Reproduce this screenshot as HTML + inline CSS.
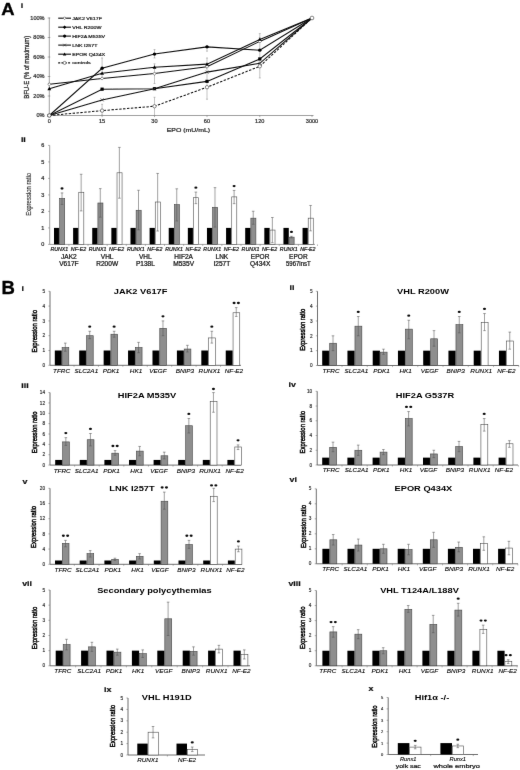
<!DOCTYPE html>
<html><head><meta charset="utf-8"><style>
html,body{margin:0;padding:0;background:#fff;}
body{width:520px;height:770px;overflow:hidden;}
svg{display:block;}
text{font-family:"Liberation Sans", sans-serif;}
</style></head><body>
<svg width="520" height="770" viewBox="0 0 520 770">
<defs><filter id="bl" x="0" y="0" width="520" height="770" filterUnits="userSpaceOnUse"><feConvolveMatrix order="3" kernelMatrix="0.00276 0.04704 0.00276 0.04704 0.80077 0.04704 0.00276 0.04704 0.00276" edgeMode="none"/></filter></defs>
<rect width="520" height="770" fill="#fff"/>
<g filter="url(#bl)">
<text x="1.20" y="14.60" font-size="17.4" font-weight="bold" textLength="13.32" lengthAdjust="spacingAndGlyphs" fill="#000" stroke="#000" stroke-width="0.35">A</text>
<text x="20.80" y="7.60" font-size="7.4" font-weight="bold" textLength="2.47" lengthAdjust="spacingAndGlyphs" fill="#111" stroke="#111" stroke-width="0.2">i</text>
<line x1="49.30" y1="17.50" x2="49.30" y2="115.50" stroke="#606060" stroke-width="0.6"/>
<line x1="49.30" y1="115.50" x2="313.50" y2="115.50" stroke="#606060" stroke-width="0.6"/>
<line x1="47.70" y1="115.50" x2="50.30" y2="115.50" stroke="#606060" stroke-width="0.5"/>
<text x="44.60" y="117.40" font-size="5.0" text-anchor="end" textLength="8.09" lengthAdjust="spacingAndGlyphs" fill="#333" stroke="#333" stroke-width="0.22">0%</text>
<line x1="47.70" y1="96.00" x2="50.30" y2="96.00" stroke="#606060" stroke-width="0.5"/>
<text x="44.60" y="97.90" font-size="5.0" text-anchor="end" textLength="11.21" lengthAdjust="spacingAndGlyphs" fill="#333" stroke="#333" stroke-width="0.22">20%</text>
<line x1="47.70" y1="76.50" x2="50.30" y2="76.50" stroke="#606060" stroke-width="0.5"/>
<text x="44.60" y="78.40" font-size="5.0" text-anchor="end" textLength="11.21" lengthAdjust="spacingAndGlyphs" fill="#333" stroke="#333" stroke-width="0.22">40%</text>
<line x1="47.70" y1="57.00" x2="50.30" y2="57.00" stroke="#606060" stroke-width="0.5"/>
<text x="44.60" y="58.90" font-size="5.0" text-anchor="end" textLength="11.21" lengthAdjust="spacingAndGlyphs" fill="#333" stroke="#333" stroke-width="0.22">60%</text>
<line x1="47.70" y1="37.50" x2="50.30" y2="37.50" stroke="#606060" stroke-width="0.5"/>
<text x="44.60" y="39.40" font-size="5.0" text-anchor="end" textLength="11.21" lengthAdjust="spacingAndGlyphs" fill="#333" stroke="#333" stroke-width="0.22">80%</text>
<line x1="47.70" y1="18.00" x2="50.30" y2="18.00" stroke="#606060" stroke-width="0.5"/>
<text x="44.60" y="19.90" font-size="5.0" text-anchor="end" textLength="14.32" lengthAdjust="spacingAndGlyphs" fill="#333" stroke="#333" stroke-width="0.22">100%</text>
<line x1="49.30" y1="115.50" x2="49.30" y2="117.10" stroke="#606060" stroke-width="0.5"/>
<text x="49.30" y="123.40" font-size="5.0" text-anchor="middle" textLength="3.11" lengthAdjust="spacingAndGlyphs" fill="#333" stroke="#333" stroke-width="0.22">0</text>
<line x1="102.10" y1="115.50" x2="102.10" y2="117.10" stroke="#606060" stroke-width="0.5"/>
<text x="102.10" y="123.40" font-size="5.0" text-anchor="middle" textLength="6.23" lengthAdjust="spacingAndGlyphs" fill="#333" stroke="#333" stroke-width="0.22">15</text>
<line x1="154.50" y1="115.50" x2="154.50" y2="117.10" stroke="#606060" stroke-width="0.5"/>
<text x="154.50" y="123.40" font-size="5.0" text-anchor="middle" textLength="6.23" lengthAdjust="spacingAndGlyphs" fill="#333" stroke="#333" stroke-width="0.22">30</text>
<line x1="207.00" y1="115.50" x2="207.00" y2="117.10" stroke="#606060" stroke-width="0.5"/>
<text x="207.00" y="123.40" font-size="5.0" text-anchor="middle" textLength="6.23" lengthAdjust="spacingAndGlyphs" fill="#333" stroke="#333" stroke-width="0.22">60</text>
<line x1="259.80" y1="115.50" x2="259.80" y2="117.10" stroke="#606060" stroke-width="0.5"/>
<text x="259.80" y="123.40" font-size="5.0" text-anchor="middle" textLength="9.34" lengthAdjust="spacingAndGlyphs" fill="#333" stroke="#333" stroke-width="0.22">120</text>
<line x1="312.00" y1="115.50" x2="312.00" y2="117.10" stroke="#606060" stroke-width="0.5"/>
<text x="312.00" y="123.40" font-size="5.0" text-anchor="middle" textLength="12.46" lengthAdjust="spacingAndGlyphs" fill="#333" stroke="#333" stroke-width="0.22">3000</text>
<text x="188.40" y="132.00" font-size="6.0" text-anchor="middle" textLength="43.50" lengthAdjust="spacingAndGlyphs" fill="#222" stroke="#222" stroke-width="0.22">EPO (mU/mL)</text>
<text x="0" y="0" font-size="6.0" text-anchor="middle" textLength="63.00" lengthAdjust="spacingAndGlyphs" fill="#222" stroke="#222" stroke-width="0.22" transform="translate(29.40 67.30) scale(1.2 1) rotate(-90)">BFU-E (% of maximum)</text>
<line x1="102.10" y1="57.98" x2="102.10" y2="77.96" stroke="#888" stroke-width="0.5"/>
<line x1="101.10" y1="57.98" x2="103.10" y2="57.98" stroke="#888" stroke-width="0.5"/>
<line x1="101.10" y1="77.96" x2="103.10" y2="77.96" stroke="#888" stroke-width="0.5"/>
<line x1="102.10" y1="104.29" x2="102.10" y2="115.01" stroke="#888" stroke-width="0.5"/>
<line x1="101.10" y1="104.29" x2="103.10" y2="104.29" stroke="#888" stroke-width="0.5"/>
<line x1="101.10" y1="115.01" x2="103.10" y2="115.01" stroke="#888" stroke-width="0.5"/>
<line x1="154.50" y1="49.59" x2="154.50" y2="57.98" stroke="#888" stroke-width="0.5"/>
<line x1="153.50" y1="49.59" x2="155.50" y2="49.59" stroke="#888" stroke-width="0.5"/>
<line x1="153.50" y1="57.98" x2="155.50" y2="57.98" stroke="#888" stroke-width="0.5"/>
<line x1="154.50" y1="63.83" x2="154.50" y2="83.52" stroke="#888" stroke-width="0.5"/>
<line x1="153.50" y1="63.83" x2="155.50" y2="63.83" stroke="#888" stroke-width="0.5"/>
<line x1="153.50" y1="83.52" x2="155.50" y2="83.52" stroke="#888" stroke-width="0.5"/>
<line x1="154.50" y1="97.27" x2="154.50" y2="115.50" stroke="#888" stroke-width="0.5"/>
<line x1="153.50" y1="97.27" x2="155.50" y2="97.27" stroke="#888" stroke-width="0.5"/>
<line x1="153.50" y1="115.50" x2="155.50" y2="115.50" stroke="#888" stroke-width="0.5"/>
<line x1="207.00" y1="57.98" x2="207.00" y2="99.22" stroke="#888" stroke-width="0.5"/>
<line x1="206.00" y1="57.98" x2="208.00" y2="57.98" stroke="#888" stroke-width="0.5"/>
<line x1="206.00" y1="99.22" x2="208.00" y2="99.22" stroke="#888" stroke-width="0.5"/>
<line x1="207.00" y1="45.79" x2="207.00" y2="51.15" stroke="#888" stroke-width="0.5"/>
<line x1="206.00" y1="45.79" x2="208.00" y2="45.79" stroke="#888" stroke-width="0.5"/>
<line x1="206.00" y1="51.15" x2="208.00" y2="51.15" stroke="#888" stroke-width="0.5"/>
<line x1="259.80" y1="38.48" x2="259.80" y2="77.96" stroke="#888" stroke-width="0.5"/>
<line x1="258.80" y1="38.48" x2="260.80" y2="38.48" stroke="#888" stroke-width="0.5"/>
<line x1="258.80" y1="77.96" x2="260.80" y2="77.96" stroke="#888" stroke-width="0.5"/>
<line x1="259.80" y1="33.60" x2="259.80" y2="37.50" stroke="#888" stroke-width="0.5"/>
<line x1="258.80" y1="33.60" x2="260.80" y2="33.60" stroke="#888" stroke-width="0.5"/>
<line x1="258.80" y1="37.50" x2="260.80" y2="37.50" stroke="#888" stroke-width="0.5"/>
<polyline points="49.30,84.30 102.10,78.45 154.50,73.58 207.00,66.75 259.80,41.40 312.00,18.00" fill="none" stroke="#111" stroke-width="1.05"/>
<polyline points="49.30,115.50 102.10,89.17 154.50,88.69 207.00,81.38 259.80,58.95 312.00,18.00" fill="none" stroke="#111" stroke-width="1.05"/>
<polyline points="49.30,115.50 102.10,68.31 154.50,54.08 207.00,46.86 259.80,50.17 312.00,18.00" fill="none" stroke="#111" stroke-width="1.05"/>
<polyline points="49.30,115.50 102.10,99.90 154.50,88.69 207.00,72.11 259.80,63.34 312.00,18.00" fill="none" stroke="#111" stroke-width="1.05"/>
<polyline points="49.30,88.69 102.10,73.28 154.50,67.24 207.00,64.12 259.80,39.45 312.00,18.00" fill="none" stroke="#111" stroke-width="1.05"/>
<polyline points="49.30,115.50 102.10,110.62 154.50,106.24 207.00,87.22 259.80,66.26 312.00,18.00" fill="none" stroke="#111" stroke-width="1.05" stroke-dasharray="2.4 1.5"/>
<path d="M47.70 84.30L49.30 82.70L50.90 84.30L49.30 85.90Z" fill="#fff" stroke="#333" stroke-width="0.55"/>
<path d="M100.50 78.45L102.10 76.85L103.70 78.45L102.10 80.05Z" fill="#fff" stroke="#333" stroke-width="0.55"/>
<path d="M152.90 73.58L154.50 71.98L156.10 73.58L154.50 75.17Z" fill="#fff" stroke="#333" stroke-width="0.55"/>
<path d="M205.40 66.75L207.00 65.15L208.60 66.75L207.00 68.35Z" fill="#fff" stroke="#333" stroke-width="0.55"/>
<path d="M258.20 41.40L259.80 39.80L261.40 41.40L259.80 43.00Z" fill="#fff" stroke="#333" stroke-width="0.55"/>
<rect x="47.70" y="113.90" width="3.20" height="3.20" fill="#000"/>
<rect x="100.50" y="87.58" width="3.20" height="3.20" fill="#000"/>
<rect x="152.90" y="87.09" width="3.20" height="3.20" fill="#000"/>
<rect x="205.40" y="79.78" width="3.20" height="3.20" fill="#000"/>
<rect x="258.20" y="57.35" width="3.20" height="3.20" fill="#000"/>
<circle cx="49.30" cy="115.50" r="1.70" fill="#000"/>
<circle cx="102.10" cy="68.31" r="1.70" fill="#000"/>
<circle cx="154.50" cy="54.08" r="1.70" fill="#000"/>
<circle cx="207.00" cy="46.86" r="1.70" fill="#000"/>
<circle cx="259.80" cy="50.17" r="1.70" fill="#000"/>
<path d="M47.80 114.00L50.80 117.00M47.80 117.00L50.80 114.00" stroke="#333" stroke-width="0.7"/>
<path d="M100.60 98.40L103.60 101.40M100.60 101.40L103.60 98.40" stroke="#333" stroke-width="0.7"/>
<path d="M153.00 87.19L156.00 90.19M153.00 90.19L156.00 87.19" stroke="#333" stroke-width="0.7"/>
<path d="M205.50 70.61L208.50 73.61M205.50 73.61L208.50 70.61" stroke="#333" stroke-width="0.7"/>
<path d="M258.30 61.84L261.30 64.84M258.30 64.84L261.30 61.84" stroke="#333" stroke-width="0.7"/>
<path d="M49.30 86.79L51.20 90.21L47.40 90.21Z" fill="#000"/>
<path d="M102.10 71.38L104.00 74.80L100.20 74.80Z" fill="#000"/>
<path d="M154.50 65.34L156.40 68.76L152.60 68.76Z" fill="#000"/>
<path d="M207.00 62.22L208.90 65.64L205.10 65.64Z" fill="#000"/>
<path d="M259.80 37.55L261.70 40.97L257.90 40.97Z" fill="#000"/>
<circle cx="49.30" cy="115.50" r="1.70" fill="#fff" stroke="#333" stroke-width="0.6"/>
<circle cx="102.10" cy="110.62" r="1.70" fill="#fff" stroke="#333" stroke-width="0.6"/>
<circle cx="154.50" cy="106.24" r="1.70" fill="#fff" stroke="#333" stroke-width="0.6"/>
<circle cx="207.00" cy="87.22" r="1.70" fill="#fff" stroke="#333" stroke-width="0.6"/>
<circle cx="259.80" cy="66.26" r="1.70" fill="#fff" stroke="#333" stroke-width="0.6"/>
<circle cx="312.00" cy="18.00" r="1.87" fill="#fff" stroke="#333" stroke-width="0.6"/>
<line x1="58.2" y1="18.2" x2="71.0" y2="18.2" stroke="#111" stroke-width="1.1"/>
<path d="M63.16 18.20L64.60 16.76L66.04 18.20L64.60 19.64Z" fill="#fff" stroke="#333" stroke-width="0.55"/>
<text x="72.20" y="19.75" font-size="4.2" textLength="29.71" lengthAdjust="spacingAndGlyphs" fill="#222" stroke="#222" stroke-width="0.2">JAK2 V617F</text>
<line x1="58.2" y1="27.2" x2="71.0" y2="27.2" stroke="#111" stroke-width="1.1"/>
<path d="M62.80 27.20L64.60 25.40L66.40 27.20L64.60 29.00Z" fill="#000"/>
<text x="72.20" y="28.75" font-size="4.2" textLength="29.22" lengthAdjust="spacingAndGlyphs" fill="#222" stroke="#222" stroke-width="0.2">VHL R200W</text>
<line x1="58.2" y1="36.1" x2="71.0" y2="36.1" stroke="#111" stroke-width="1.1"/>
<circle cx="64.60" cy="36.10" r="1.53" fill="#000"/>
<text x="72.20" y="37.65" font-size="4.2" textLength="32.94" lengthAdjust="spacingAndGlyphs" fill="#222" stroke="#222" stroke-width="0.2">HIF2A M535V</text>
<line x1="58.2" y1="45.1" x2="71.0" y2="45.1" stroke="#111" stroke-width="1.1"/>
<path d="M63.25 43.75L65.95 46.45M63.25 46.45L65.95 43.75" stroke="#333" stroke-width="0.7"/>
<text x="72.20" y="46.65" font-size="4.2" textLength="25.30" lengthAdjust="spacingAndGlyphs" fill="#222" stroke="#222" stroke-width="0.2">LNK I257T</text>
<line x1="58.2" y1="54.2" x2="71.0" y2="54.2" stroke="#111" stroke-width="1.1"/>
<path d="M64.60 52.49L66.31 55.57L62.89 55.57Z" fill="#000"/>
<text x="72.20" y="55.75" font-size="4.2" textLength="32.94" lengthAdjust="spacingAndGlyphs" fill="#222" stroke="#222" stroke-width="0.2">EPOR Q434X</text>
<line x1="58.2" y1="62.9" x2="71.0" y2="62.9" stroke="#111" stroke-width="1.1" stroke-dasharray="2 1.3"/>
<circle cx="64.60" cy="62.90" r="1.53" fill="#fff" stroke="#333" stroke-width="0.6"/>
<text x="72.20" y="64.45" font-size="4.2" textLength="18.53" lengthAdjust="spacingAndGlyphs" fill="#222" stroke="#222" stroke-width="0.2">controls</text>
<text x="20.90" y="142.10" font-size="7.4" font-weight="bold" textLength="4.93" lengthAdjust="spacingAndGlyphs" fill="#111" stroke="#111" stroke-width="0.2">ii</text>
<line x1="49.70" y1="145.40" x2="49.70" y2="244.40" stroke="#606060" stroke-width="0.6"/>
<line x1="49.70" y1="244.40" x2="315.00" y2="244.40" stroke="#606060" stroke-width="0.6"/>
<line x1="48.10" y1="244.40" x2="49.70" y2="244.40" stroke="#606060" stroke-width="0.5"/>
<text x="44.40" y="246.10" font-size="4.8" text-anchor="end" textLength="3.07" lengthAdjust="spacingAndGlyphs" fill="#333" stroke="#333" stroke-width="0.22">0</text>
<line x1="48.10" y1="227.90" x2="49.70" y2="227.90" stroke="#606060" stroke-width="0.5"/>
<text x="44.40" y="229.60" font-size="4.8" text-anchor="end" textLength="3.07" lengthAdjust="spacingAndGlyphs" fill="#333" stroke="#333" stroke-width="0.22">1</text>
<line x1="48.10" y1="211.40" x2="49.70" y2="211.40" stroke="#606060" stroke-width="0.5"/>
<text x="44.40" y="213.10" font-size="4.8" text-anchor="end" textLength="3.07" lengthAdjust="spacingAndGlyphs" fill="#333" stroke="#333" stroke-width="0.22">2</text>
<line x1="48.10" y1="194.90" x2="49.70" y2="194.90" stroke="#606060" stroke-width="0.5"/>
<text x="44.40" y="196.60" font-size="4.8" text-anchor="end" textLength="3.07" lengthAdjust="spacingAndGlyphs" fill="#333" stroke="#333" stroke-width="0.22">3</text>
<line x1="48.10" y1="178.40" x2="49.70" y2="178.40" stroke="#606060" stroke-width="0.5"/>
<text x="44.40" y="180.10" font-size="4.8" text-anchor="end" textLength="3.07" lengthAdjust="spacingAndGlyphs" fill="#333" stroke="#333" stroke-width="0.22">4</text>
<line x1="48.10" y1="161.90" x2="49.70" y2="161.90" stroke="#606060" stroke-width="0.5"/>
<text x="44.40" y="163.60" font-size="4.8" text-anchor="end" textLength="3.07" lengthAdjust="spacingAndGlyphs" fill="#333" stroke="#333" stroke-width="0.22">5</text>
<line x1="48.10" y1="145.40" x2="49.70" y2="145.40" stroke="#606060" stroke-width="0.5"/>
<text x="44.40" y="147.10" font-size="4.8" text-anchor="end" textLength="3.07" lengthAdjust="spacingAndGlyphs" fill="#333" stroke="#333" stroke-width="0.22">6</text>
<text x="0" y="0" font-size="5.9" text-anchor="middle" textLength="42.80" lengthAdjust="spacingAndGlyphs" fill="#2a2a2a" stroke="#2a2a2a" stroke-width="0.1" transform="translate(31.40 194.30) scale(1.2 1) rotate(-90)">Expression ratio</text>
<rect x="54.00" y="227.90" width="5.35" height="16.50" fill="#000"/>
<rect x="59.65" y="198.53" width="5.05" height="45.87" fill="#8e8e8e" stroke="#444" stroke-width="0.6"/>
<line x1="62.02" y1="192.92" x2="62.02" y2="204.47" stroke="#555" stroke-width="0.55"/>
<line x1="60.73" y1="192.92" x2="63.32" y2="192.92" stroke="#555" stroke-width="0.55"/>
<line x1="60.73" y1="204.47" x2="63.32" y2="204.47" stroke="#555" stroke-width="0.55"/>
<ellipse cx="62.02" cy="188.52" rx="1.55" ry="1.15" fill="#111"/>
<text x="59.35" y="251.00" font-size="4.7" text-anchor="middle" font-style="italic" textLength="17.84" lengthAdjust="spacingAndGlyphs" fill="#222" stroke="#222" stroke-width="0.22">RUNX1</text>
<rect x="73.12" y="227.90" width="5.35" height="16.50" fill="#000"/>
<rect x="78.77" y="192.26" width="5.05" height="52.14" fill="#fff" stroke="#444" stroke-width="0.6"/>
<line x1="81.15" y1="174.28" x2="81.15" y2="210.91" stroke="#555" stroke-width="0.55"/>
<line x1="79.85" y1="174.28" x2="82.45" y2="174.28" stroke="#555" stroke-width="0.55"/>
<line x1="79.85" y1="210.91" x2="82.45" y2="210.91" stroke="#555" stroke-width="0.55"/>
<text x="78.47" y="251.00" font-size="4.7" text-anchor="middle" font-style="italic" textLength="15.21" lengthAdjust="spacingAndGlyphs" fill="#222" stroke="#222" stroke-width="0.22">NF-E2</text>
<rect x="92.24" y="227.90" width="5.35" height="16.50" fill="#000"/>
<rect x="97.89" y="202.99" width="5.05" height="41.41" fill="#8e8e8e" stroke="#444" stroke-width="0.6"/>
<line x1="100.27" y1="188.63" x2="100.27" y2="217.18" stroke="#555" stroke-width="0.55"/>
<line x1="98.97" y1="188.63" x2="101.57" y2="188.63" stroke="#555" stroke-width="0.55"/>
<line x1="98.97" y1="217.18" x2="101.57" y2="217.18" stroke="#555" stroke-width="0.55"/>
<text x="97.59" y="251.00" font-size="4.7" text-anchor="middle" font-style="italic" textLength="17.84" lengthAdjust="spacingAndGlyphs" fill="#222" stroke="#222" stroke-width="0.22">RUNX1</text>
<rect x="111.36" y="227.90" width="5.35" height="16.50" fill="#000"/>
<rect x="117.01" y="172.79" width="5.05" height="71.61" fill="#fff" stroke="#444" stroke-width="0.6"/>
<line x1="119.38" y1="147.38" x2="119.38" y2="198.20" stroke="#555" stroke-width="0.55"/>
<line x1="118.08" y1="147.38" x2="120.68" y2="147.38" stroke="#555" stroke-width="0.55"/>
<line x1="118.08" y1="198.20" x2="120.68" y2="198.20" stroke="#555" stroke-width="0.55"/>
<text x="116.71" y="251.00" font-size="4.7" text-anchor="middle" font-style="italic" textLength="15.21" lengthAdjust="spacingAndGlyphs" fill="#222" stroke="#222" stroke-width="0.22">NF-E2</text>
<rect x="130.48" y="227.90" width="5.35" height="16.50" fill="#000"/>
<rect x="136.13" y="210.25" width="5.05" height="34.15" fill="#8e8e8e" stroke="#444" stroke-width="0.6"/>
<line x1="138.51" y1="190.28" x2="138.51" y2="229.88" stroke="#555" stroke-width="0.55"/>
<line x1="137.21" y1="190.28" x2="139.81" y2="190.28" stroke="#555" stroke-width="0.55"/>
<line x1="137.21" y1="229.88" x2="139.81" y2="229.88" stroke="#555" stroke-width="0.55"/>
<text x="135.83" y="251.00" font-size="4.7" text-anchor="middle" font-style="italic" textLength="17.84" lengthAdjust="spacingAndGlyphs" fill="#222" stroke="#222" stroke-width="0.22">RUNX1</text>
<rect x="149.60" y="227.90" width="5.35" height="16.50" fill="#000"/>
<rect x="155.25" y="202.00" width="5.05" height="42.40" fill="#fff" stroke="#444" stroke-width="0.6"/>
<line x1="157.63" y1="173.45" x2="157.63" y2="231.03" stroke="#555" stroke-width="0.55"/>
<line x1="156.33" y1="173.45" x2="158.93" y2="173.45" stroke="#555" stroke-width="0.55"/>
<line x1="156.33" y1="231.03" x2="158.93" y2="231.03" stroke="#555" stroke-width="0.55"/>
<text x="154.95" y="251.00" font-size="4.7" text-anchor="middle" font-style="italic" textLength="15.21" lengthAdjust="spacingAndGlyphs" fill="#222" stroke="#222" stroke-width="0.22">NF-E2</text>
<rect x="168.72" y="227.90" width="5.35" height="16.50" fill="#000"/>
<rect x="174.37" y="204.63" width="5.05" height="39.77" fill="#8e8e8e" stroke="#444" stroke-width="0.6"/>
<line x1="176.75" y1="188.80" x2="176.75" y2="220.97" stroke="#555" stroke-width="0.55"/>
<line x1="175.44" y1="188.80" x2="178.05" y2="188.80" stroke="#555" stroke-width="0.55"/>
<line x1="175.44" y1="220.97" x2="178.05" y2="220.97" stroke="#555" stroke-width="0.55"/>
<text x="174.07" y="251.00" font-size="4.7" text-anchor="middle" font-style="italic" textLength="17.84" lengthAdjust="spacingAndGlyphs" fill="#222" stroke="#222" stroke-width="0.22">RUNX1</text>
<rect x="187.84" y="227.90" width="5.35" height="16.50" fill="#000"/>
<rect x="193.49" y="197.71" width="5.05" height="46.70" fill="#fff" stroke="#444" stroke-width="0.6"/>
<line x1="195.87" y1="192.09" x2="195.87" y2="203.65" stroke="#555" stroke-width="0.55"/>
<line x1="194.56" y1="192.09" x2="197.17" y2="192.09" stroke="#555" stroke-width="0.55"/>
<line x1="194.56" y1="203.65" x2="197.17" y2="203.65" stroke="#555" stroke-width="0.55"/>
<ellipse cx="195.87" cy="187.69" rx="1.55" ry="1.15" fill="#111"/>
<text x="193.19" y="251.00" font-size="4.7" text-anchor="middle" font-style="italic" textLength="15.21" lengthAdjust="spacingAndGlyphs" fill="#222" stroke="#222" stroke-width="0.22">NF-E2</text>
<rect x="206.96" y="227.90" width="5.35" height="16.50" fill="#000"/>
<rect x="212.61" y="207.28" width="5.05" height="37.12" fill="#8e8e8e" stroke="#444" stroke-width="0.6"/>
<line x1="214.99" y1="187.64" x2="214.99" y2="227.08" stroke="#555" stroke-width="0.55"/>
<line x1="213.69" y1="187.64" x2="216.29" y2="187.64" stroke="#555" stroke-width="0.55"/>
<line x1="213.69" y1="227.08" x2="216.29" y2="227.08" stroke="#555" stroke-width="0.55"/>
<text x="212.31" y="251.00" font-size="4.7" text-anchor="middle" font-style="italic" textLength="17.84" lengthAdjust="spacingAndGlyphs" fill="#222" stroke="#222" stroke-width="0.22">RUNX1</text>
<rect x="226.08" y="227.90" width="5.35" height="16.50" fill="#000"/>
<rect x="231.73" y="196.88" width="5.05" height="47.52" fill="#fff" stroke="#444" stroke-width="0.6"/>
<line x1="234.11" y1="190.44" x2="234.11" y2="203.65" stroke="#555" stroke-width="0.55"/>
<line x1="232.81" y1="190.44" x2="235.41" y2="190.44" stroke="#555" stroke-width="0.55"/>
<line x1="232.81" y1="203.65" x2="235.41" y2="203.65" stroke="#555" stroke-width="0.55"/>
<ellipse cx="234.11" cy="186.04" rx="1.55" ry="1.15" fill="#111"/>
<text x="231.43" y="251.00" font-size="4.7" text-anchor="middle" font-style="italic" textLength="15.21" lengthAdjust="spacingAndGlyphs" fill="#222" stroke="#222" stroke-width="0.22">NF-E2</text>
<rect x="245.20" y="227.90" width="5.35" height="16.50" fill="#000"/>
<rect x="250.85" y="218.16" width="5.05" height="26.24" fill="#8e8e8e" stroke="#444" stroke-width="0.6"/>
<line x1="253.23" y1="211.24" x2="253.23" y2="224.27" stroke="#555" stroke-width="0.55"/>
<line x1="251.93" y1="211.24" x2="254.53" y2="211.24" stroke="#555" stroke-width="0.55"/>
<line x1="251.93" y1="224.27" x2="254.53" y2="224.27" stroke="#555" stroke-width="0.55"/>
<text x="250.55" y="251.00" font-size="4.7" text-anchor="middle" font-style="italic" textLength="17.84" lengthAdjust="spacingAndGlyphs" fill="#222" stroke="#222" stroke-width="0.22">RUNX1</text>
<rect x="264.32" y="227.90" width="5.35" height="16.50" fill="#000"/>
<rect x="269.97" y="230.05" width="5.05" height="14.36" fill="#fff" stroke="#444" stroke-width="0.6"/>
<line x1="272.35" y1="217.50" x2="272.35" y2="242.75" stroke="#555" stroke-width="0.55"/>
<line x1="271.05" y1="217.50" x2="273.65" y2="217.50" stroke="#555" stroke-width="0.55"/>
<line x1="271.05" y1="242.75" x2="273.65" y2="242.75" stroke="#555" stroke-width="0.55"/>
<text x="269.67" y="251.00" font-size="4.7" text-anchor="middle" font-style="italic" textLength="15.21" lengthAdjust="spacingAndGlyphs" fill="#222" stroke="#222" stroke-width="0.22">NF-E2</text>
<rect x="283.44" y="227.90" width="5.35" height="16.50" fill="#000"/>
<rect x="289.09" y="237.14" width="5.05" height="7.26" fill="#8e8e8e" stroke="#444" stroke-width="0.6"/>
<line x1="291.46" y1="236.31" x2="291.46" y2="237.97" stroke="#555" stroke-width="0.55"/>
<line x1="290.16" y1="236.31" x2="292.76" y2="236.31" stroke="#555" stroke-width="0.55"/>
<line x1="290.16" y1="237.97" x2="292.76" y2="237.97" stroke="#555" stroke-width="0.55"/>
<ellipse cx="291.46" cy="231.91" rx="1.55" ry="1.15" fill="#111"/>
<text x="288.79" y="251.00" font-size="4.7" text-anchor="middle" font-style="italic" textLength="17.84" lengthAdjust="spacingAndGlyphs" fill="#222" stroke="#222" stroke-width="0.22">RUNX1</text>
<rect x="302.56" y="227.90" width="5.35" height="16.50" fill="#000"/>
<rect x="308.21" y="218.16" width="5.05" height="26.24" fill="#fff" stroke="#444" stroke-width="0.6"/>
<line x1="310.58" y1="205.46" x2="310.58" y2="230.87" stroke="#555" stroke-width="0.55"/>
<line x1="309.28" y1="205.46" x2="311.88" y2="205.46" stroke="#555" stroke-width="0.55"/>
<line x1="309.28" y1="230.87" x2="311.88" y2="230.87" stroke="#555" stroke-width="0.55"/>
<text x="307.91" y="251.00" font-size="4.7" text-anchor="middle" font-style="italic" textLength="15.21" lengthAdjust="spacingAndGlyphs" fill="#222" stroke="#222" stroke-width="0.22">NF-E2</text>
<line x1="68.91" y1="244.40" x2="68.91" y2="246.00" stroke="#606060" stroke-width="0.45"/>
<line x1="88.03" y1="244.40" x2="88.03" y2="246.00" stroke="#606060" stroke-width="0.45"/>
<line x1="107.15" y1="244.40" x2="107.15" y2="246.00" stroke="#606060" stroke-width="0.45"/>
<line x1="126.27" y1="244.40" x2="126.27" y2="246.00" stroke="#606060" stroke-width="0.45"/>
<line x1="145.39" y1="244.40" x2="145.39" y2="246.00" stroke="#606060" stroke-width="0.45"/>
<line x1="164.51" y1="244.40" x2="164.51" y2="246.00" stroke="#606060" stroke-width="0.45"/>
<line x1="183.63" y1="244.40" x2="183.63" y2="246.00" stroke="#606060" stroke-width="0.45"/>
<line x1="202.75" y1="244.40" x2="202.75" y2="246.00" stroke="#606060" stroke-width="0.45"/>
<line x1="221.87" y1="244.40" x2="221.87" y2="246.00" stroke="#606060" stroke-width="0.45"/>
<line x1="240.99" y1="244.40" x2="240.99" y2="246.00" stroke="#606060" stroke-width="0.45"/>
<line x1="260.11" y1="244.40" x2="260.11" y2="246.00" stroke="#606060" stroke-width="0.45"/>
<line x1="279.23" y1="244.40" x2="279.23" y2="246.00" stroke="#606060" stroke-width="0.45"/>
<line x1="298.35" y1="244.40" x2="298.35" y2="246.00" stroke="#606060" stroke-width="0.45"/>
<line x1="317.47" y1="244.40" x2="317.47" y2="246.00" stroke="#606060" stroke-width="0.45"/>
<text x="68.91" y="258.50" font-size="6.3" text-anchor="middle" textLength="15.66" lengthAdjust="spacingAndGlyphs" fill="#111" stroke="#111" stroke-width="0.22">JAK2</text>
<text x="68.91" y="266.00" font-size="6.3" text-anchor="middle" textLength="19.30" lengthAdjust="spacingAndGlyphs" fill="#111" stroke="#111" stroke-width="0.22">V617F</text>
<text x="107.15" y="258.50" font-size="6.3" text-anchor="middle" textLength="12.75" lengthAdjust="spacingAndGlyphs" fill="#111" stroke="#111" stroke-width="0.22">VHL</text>
<text x="107.15" y="266.00" font-size="6.3" text-anchor="middle" textLength="21.85" lengthAdjust="spacingAndGlyphs" fill="#111" stroke="#111" stroke-width="0.22">R200W</text>
<text x="145.39" y="258.50" font-size="6.3" text-anchor="middle" textLength="12.75" lengthAdjust="spacingAndGlyphs" fill="#111" stroke="#111" stroke-width="0.22">VHL</text>
<text x="145.39" y="266.00" font-size="6.3" text-anchor="middle" textLength="18.95" lengthAdjust="spacingAndGlyphs" fill="#111" stroke="#111" stroke-width="0.22">P138L</text>
<text x="183.63" y="258.50" font-size="6.3" text-anchor="middle" textLength="18.57" lengthAdjust="spacingAndGlyphs" fill="#111" stroke="#111" stroke-width="0.22">HIF2A</text>
<text x="183.63" y="266.00" font-size="6.3" text-anchor="middle" textLength="20.76" lengthAdjust="spacingAndGlyphs" fill="#111" stroke="#111" stroke-width="0.22">M535V</text>
<text x="221.87" y="258.50" font-size="6.3" text-anchor="middle" textLength="12.75" lengthAdjust="spacingAndGlyphs" fill="#111" stroke="#111" stroke-width="0.22">LNK</text>
<text x="221.87" y="266.00" font-size="6.3" text-anchor="middle" textLength="16.75" lengthAdjust="spacingAndGlyphs" fill="#111" stroke="#111" stroke-width="0.22">I257T</text>
<text x="260.11" y="258.50" font-size="6.3" text-anchor="middle" textLength="18.57" lengthAdjust="spacingAndGlyphs" fill="#111" stroke="#111" stroke-width="0.22">EPOR</text>
<text x="260.11" y="266.00" font-size="6.3" text-anchor="middle" textLength="20.40" lengthAdjust="spacingAndGlyphs" fill="#111" stroke="#111" stroke-width="0.22">Q434X</text>
<text x="298.35" y="258.50" font-size="6.3" text-anchor="middle" textLength="18.57" lengthAdjust="spacingAndGlyphs" fill="#111" stroke="#111" stroke-width="0.22">EPOR</text>
<text x="298.35" y="266.00" font-size="6.3" text-anchor="middle" textLength="24.62" lengthAdjust="spacingAndGlyphs" fill="#111" stroke="#111" stroke-width="0.22">5967insT</text>
<text x="1.60" y="293.50" font-size="17.8" font-weight="bold" textLength="13.37" lengthAdjust="spacingAndGlyphs" fill="#000" stroke="#000" stroke-width="0.35">B</text>
<text x="21.40" y="290.80" font-size="7.4" font-weight="bold" textLength="2.47" lengthAdjust="spacingAndGlyphs" fill="#111" stroke="#111" stroke-width="0.2">i</text>
<line x1="50.00" y1="291.30" x2="50.00" y2="365.30" stroke="#606060" stroke-width="0.9"/>
<line x1="50.00" y1="365.30" x2="241.00" y2="365.30" stroke="#606060" stroke-width="0.9"/>
<line x1="48.40" y1="365.30" x2="50.00" y2="365.30" stroke="#606060" stroke-width="0.5"/>
<text x="45.00" y="366.99" font-size="4.7" text-anchor="end" fill="#2a2a2a" stroke="#2a2a2a" stroke-width="0.15">0</text>
<line x1="48.40" y1="350.50" x2="50.00" y2="350.50" stroke="#606060" stroke-width="0.5"/>
<text x="45.00" y="352.19" font-size="4.7" text-anchor="end" fill="#2a2a2a" stroke="#2a2a2a" stroke-width="0.15">1</text>
<line x1="48.40" y1="335.70" x2="50.00" y2="335.70" stroke="#606060" stroke-width="0.5"/>
<text x="45.00" y="337.39" font-size="4.7" text-anchor="end" fill="#2a2a2a" stroke="#2a2a2a" stroke-width="0.15">2</text>
<line x1="48.40" y1="320.90" x2="50.00" y2="320.90" stroke="#606060" stroke-width="0.5"/>
<text x="45.00" y="322.59" font-size="4.7" text-anchor="end" fill="#2a2a2a" stroke="#2a2a2a" stroke-width="0.15">3</text>
<line x1="48.40" y1="306.10" x2="50.00" y2="306.10" stroke="#606060" stroke-width="0.5"/>
<text x="45.00" y="307.79" font-size="4.7" text-anchor="end" fill="#2a2a2a" stroke="#2a2a2a" stroke-width="0.15">4</text>
<line x1="48.40" y1="291.30" x2="50.00" y2="291.30" stroke="#606060" stroke-width="0.5"/>
<text x="45.00" y="292.99" font-size="4.7" text-anchor="end" fill="#2a2a2a" stroke="#2a2a2a" stroke-width="0.15">5</text>
<line x1="74.01" y1="365.30" x2="74.01" y2="366.90" stroke="#606060" stroke-width="0.45"/>
<line x1="98.43" y1="365.30" x2="98.43" y2="366.90" stroke="#606060" stroke-width="0.45"/>
<line x1="122.85" y1="365.30" x2="122.85" y2="366.90" stroke="#606060" stroke-width="0.45"/>
<line x1="147.27" y1="365.30" x2="147.27" y2="366.90" stroke="#606060" stroke-width="0.45"/>
<line x1="171.69" y1="365.30" x2="171.69" y2="366.90" stroke="#606060" stroke-width="0.45"/>
<line x1="196.11" y1="365.30" x2="196.11" y2="366.90" stroke="#606060" stroke-width="0.45"/>
<line x1="220.53" y1="365.30" x2="220.53" y2="366.90" stroke="#606060" stroke-width="0.45"/>
<rect x="54.80" y="350.50" width="7.00" height="14.80" fill="#000"/>
<rect x="62.10" y="347.54" width="6.70" height="17.76" fill="#8e8e8e" stroke="#444" stroke-width="0.6"/>
<line x1="65.30" y1="343.10" x2="65.30" y2="351.24" stroke="#555" stroke-width="0.55"/>
<line x1="64.00" y1="343.10" x2="66.60" y2="343.10" stroke="#555" stroke-width="0.55"/>
<line x1="64.00" y1="351.24" x2="66.60" y2="351.24" stroke="#555" stroke-width="0.55"/>
<text x="61.50" y="372.70" font-size="5.6" text-anchor="middle" font-style="italic" textLength="17.02" lengthAdjust="spacingAndGlyphs" stroke="#1a1a1a" stroke-width="0.1">TFRC</text>
<rect x="79.22" y="350.50" width="7.00" height="14.80" fill="#000"/>
<rect x="86.52" y="335.70" width="6.70" height="29.60" fill="#8e8e8e" stroke="#444" stroke-width="0.6"/>
<line x1="89.72" y1="331.26" x2="89.72" y2="338.66" stroke="#555" stroke-width="0.55"/>
<line x1="88.42" y1="331.26" x2="91.02" y2="331.26" stroke="#555" stroke-width="0.55"/>
<line x1="88.42" y1="338.66" x2="91.02" y2="338.66" stroke="#555" stroke-width="0.55"/>
<ellipse cx="89.72" cy="326.66" rx="1.55" ry="1.15" fill="#111"/>
<text x="86.30" y="372.70" font-size="5.6" text-anchor="middle" font-style="italic" textLength="23.78" lengthAdjust="spacingAndGlyphs" stroke="#1a1a1a" stroke-width="0.1">SLC2A1</text>
<rect x="103.64" y="350.50" width="7.00" height="14.80" fill="#000"/>
<rect x="110.94" y="334.22" width="6.70" height="31.08" fill="#8e8e8e" stroke="#444" stroke-width="0.6"/>
<line x1="114.14" y1="331.26" x2="114.14" y2="337.18" stroke="#555" stroke-width="0.55"/>
<line x1="112.84" y1="331.26" x2="115.44" y2="331.26" stroke="#555" stroke-width="0.55"/>
<line x1="112.84" y1="337.18" x2="115.44" y2="337.18" stroke="#555" stroke-width="0.55"/>
<ellipse cx="114.14" cy="326.66" rx="1.55" ry="1.15" fill="#111"/>
<text x="111.00" y="372.70" font-size="5.6" text-anchor="middle" font-style="italic" textLength="16.68" lengthAdjust="spacingAndGlyphs" stroke="#1a1a1a" stroke-width="0.1">PDK1</text>
<rect x="128.06" y="350.50" width="7.00" height="14.80" fill="#000"/>
<rect x="135.36" y="347.54" width="6.70" height="17.76" fill="#8e8e8e" stroke="#444" stroke-width="0.6"/>
<line x1="138.56" y1="342.36" x2="138.56" y2="352.72" stroke="#555" stroke-width="0.55"/>
<line x1="137.26" y1="342.36" x2="139.86" y2="342.36" stroke="#555" stroke-width="0.55"/>
<line x1="137.26" y1="352.72" x2="139.86" y2="352.72" stroke="#555" stroke-width="0.55"/>
<text x="136.10" y="372.70" font-size="5.6" text-anchor="middle" font-style="italic" textLength="12.42" lengthAdjust="spacingAndGlyphs" stroke="#1a1a1a" stroke-width="0.1">HK1</text>
<rect x="152.48" y="350.50" width="7.00" height="14.80" fill="#000"/>
<rect x="159.78" y="328.30" width="6.70" height="37.00" fill="#8e8e8e" stroke="#444" stroke-width="0.6"/>
<line x1="162.98" y1="320.90" x2="162.98" y2="335.70" stroke="#555" stroke-width="0.55"/>
<line x1="161.68" y1="320.90" x2="164.28" y2="320.90" stroke="#555" stroke-width="0.55"/>
<line x1="161.68" y1="335.70" x2="164.28" y2="335.70" stroke="#555" stroke-width="0.55"/>
<ellipse cx="162.98" cy="316.30" rx="1.55" ry="1.15" fill="#111"/>
<text x="158.00" y="372.70" font-size="5.6" text-anchor="middle" font-style="italic" textLength="17.38" lengthAdjust="spacingAndGlyphs" stroke="#1a1a1a" stroke-width="0.1">VEGF</text>
<rect x="176.90" y="350.50" width="7.00" height="14.80" fill="#000"/>
<rect x="184.20" y="349.02" width="6.70" height="16.28" fill="#8e8e8e" stroke="#444" stroke-width="0.6"/>
<line x1="187.40" y1="345.32" x2="187.40" y2="351.98" stroke="#555" stroke-width="0.55"/>
<line x1="186.10" y1="345.32" x2="188.70" y2="345.32" stroke="#555" stroke-width="0.55"/>
<line x1="186.10" y1="351.98" x2="188.70" y2="351.98" stroke="#555" stroke-width="0.55"/>
<text x="184.90" y="372.70" font-size="5.6" text-anchor="middle" font-style="italic" textLength="18.45" lengthAdjust="spacingAndGlyphs" stroke="#1a1a1a" stroke-width="0.1">BNIP3</text>
<rect x="201.32" y="350.50" width="7.00" height="14.80" fill="#000"/>
<rect x="208.62" y="337.92" width="6.70" height="27.38" fill="#fff" stroke="#444" stroke-width="0.6"/>
<line x1="211.82" y1="331.26" x2="211.82" y2="343.10" stroke="#555" stroke-width="0.55"/>
<line x1="210.52" y1="331.26" x2="213.12" y2="331.26" stroke="#555" stroke-width="0.55"/>
<line x1="210.52" y1="343.10" x2="213.12" y2="343.10" stroke="#555" stroke-width="0.55"/>
<ellipse cx="211.82" cy="326.66" rx="1.55" ry="1.15" fill="#111"/>
<text x="209.40" y="372.70" font-size="5.6" text-anchor="middle" font-style="italic" textLength="21.64" lengthAdjust="spacingAndGlyphs" stroke="#1a1a1a" stroke-width="0.1">RUNX1</text>
<rect x="225.74" y="350.50" width="7.00" height="14.80" fill="#000"/>
<rect x="233.04" y="312.76" width="6.70" height="52.54" fill="#fff" stroke="#444" stroke-width="0.6"/>
<line x1="236.24" y1="307.58" x2="236.24" y2="316.46" stroke="#555" stroke-width="0.55"/>
<line x1="234.94" y1="307.58" x2="237.54" y2="307.58" stroke="#555" stroke-width="0.55"/>
<line x1="234.94" y1="316.46" x2="237.54" y2="316.46" stroke="#555" stroke-width="0.55"/>
<ellipse cx="234.09" cy="302.98" rx="1.55" ry="1.15" fill="#111"/>
<ellipse cx="238.39" cy="302.98" rx="1.55" ry="1.15" fill="#111"/>
<text x="233.90" y="372.70" font-size="5.6" text-anchor="middle" font-style="italic" textLength="18.45" lengthAdjust="spacingAndGlyphs" stroke="#1a1a1a" stroke-width="0.1">NF-E2</text>
<text x="140.60" y="293.50" font-size="7.6" text-anchor="middle" font-weight="bold" textLength="53.60" lengthAdjust="spacingAndGlyphs" fill="#000">JAK2 V617F</text>
<text x="0" y="0" font-size="5.92747559274756" text-anchor="middle" textLength="42.50" lengthAdjust="spacingAndGlyphs" fill="#111" stroke="#111" stroke-width="0.38" transform="translate(36.50 331.30) scale(1.3 1) rotate(-90)">Expression ratio</text>
<text x="289.60" y="289.60" font-size="7.4" font-weight="bold" textLength="4.93" lengthAdjust="spacingAndGlyphs" fill="#111" stroke="#111" stroke-width="0.2">ii</text>
<line x1="317.50" y1="291.30" x2="317.50" y2="365.50" stroke="#606060" stroke-width="0.9"/>
<line x1="317.50" y1="365.50" x2="518.80" y2="365.50" stroke="#606060" stroke-width="0.9"/>
<line x1="315.90" y1="365.50" x2="317.50" y2="365.50" stroke="#606060" stroke-width="0.5"/>
<text x="312.50" y="367.19" font-size="4.7" text-anchor="end" fill="#2a2a2a" stroke="#2a2a2a" stroke-width="0.15">0</text>
<line x1="315.90" y1="350.66" x2="317.50" y2="350.66" stroke="#606060" stroke-width="0.5"/>
<text x="312.50" y="352.35" font-size="4.7" text-anchor="end" fill="#2a2a2a" stroke="#2a2a2a" stroke-width="0.15">1</text>
<line x1="315.90" y1="335.82" x2="317.50" y2="335.82" stroke="#606060" stroke-width="0.5"/>
<text x="312.50" y="337.51" font-size="4.7" text-anchor="end" fill="#2a2a2a" stroke="#2a2a2a" stroke-width="0.15">2</text>
<line x1="315.90" y1="320.98" x2="317.50" y2="320.98" stroke="#606060" stroke-width="0.5"/>
<text x="312.50" y="322.67" font-size="4.7" text-anchor="end" fill="#2a2a2a" stroke="#2a2a2a" stroke-width="0.15">3</text>
<line x1="315.90" y1="306.14" x2="317.50" y2="306.14" stroke="#606060" stroke-width="0.5"/>
<text x="312.50" y="307.83" font-size="4.7" text-anchor="end" fill="#2a2a2a" stroke="#2a2a2a" stroke-width="0.15">4</text>
<line x1="315.90" y1="291.30" x2="317.50" y2="291.30" stroke="#606060" stroke-width="0.5"/>
<text x="312.50" y="292.99" font-size="4.7" text-anchor="end" fill="#2a2a2a" stroke="#2a2a2a" stroke-width="0.15">5</text>
<line x1="342.02" y1="365.50" x2="342.02" y2="367.10" stroke="#606060" stroke-width="0.45"/>
<line x1="367.27" y1="365.50" x2="367.27" y2="367.10" stroke="#606060" stroke-width="0.45"/>
<line x1="392.52" y1="365.50" x2="392.52" y2="367.10" stroke="#606060" stroke-width="0.45"/>
<line x1="417.77" y1="365.50" x2="417.77" y2="367.10" stroke="#606060" stroke-width="0.45"/>
<line x1="443.02" y1="365.50" x2="443.02" y2="367.10" stroke="#606060" stroke-width="0.45"/>
<line x1="468.27" y1="365.50" x2="468.27" y2="367.10" stroke="#606060" stroke-width="0.45"/>
<line x1="493.52" y1="365.50" x2="493.52" y2="367.10" stroke="#606060" stroke-width="0.45"/>
<line x1="518.77" y1="365.50" x2="518.77" y2="367.10" stroke="#606060" stroke-width="0.45"/>
<rect x="322.20" y="350.66" width="7.20" height="14.84" fill="#000"/>
<rect x="329.70" y="343.24" width="6.90" height="22.26" fill="#8e8e8e" stroke="#444" stroke-width="0.6"/>
<line x1="333.00" y1="335.82" x2="333.00" y2="350.66" stroke="#555" stroke-width="0.55"/>
<line x1="331.70" y1="335.82" x2="334.30" y2="335.82" stroke="#555" stroke-width="0.55"/>
<line x1="331.70" y1="350.66" x2="334.30" y2="350.66" stroke="#555" stroke-width="0.55"/>
<text x="331.00" y="372.90" font-size="5.6" text-anchor="middle" font-style="italic" textLength="17.02" lengthAdjust="spacingAndGlyphs" stroke="#1a1a1a" stroke-width="0.1">TFRC</text>
<rect x="347.45" y="350.66" width="7.20" height="14.84" fill="#000"/>
<rect x="354.95" y="326.17" width="6.90" height="39.33" fill="#8e8e8e" stroke="#444" stroke-width="0.6"/>
<line x1="358.25" y1="316.53" x2="358.25" y2="335.82" stroke="#555" stroke-width="0.55"/>
<line x1="356.95" y1="316.53" x2="359.55" y2="316.53" stroke="#555" stroke-width="0.55"/>
<line x1="356.95" y1="335.82" x2="359.55" y2="335.82" stroke="#555" stroke-width="0.55"/>
<ellipse cx="358.25" cy="311.93" rx="1.55" ry="1.15" fill="#111"/>
<text x="356.40" y="372.90" font-size="5.6" text-anchor="middle" font-style="italic" textLength="23.78" lengthAdjust="spacingAndGlyphs" stroke="#1a1a1a" stroke-width="0.1">SLC2A1</text>
<rect x="372.70" y="350.66" width="7.20" height="14.84" fill="#000"/>
<rect x="380.20" y="352.14" width="6.90" height="13.36" fill="#8e8e8e" stroke="#444" stroke-width="0.6"/>
<line x1="383.50" y1="349.18" x2="383.50" y2="354.37" stroke="#555" stroke-width="0.55"/>
<line x1="382.20" y1="349.18" x2="384.80" y2="349.18" stroke="#555" stroke-width="0.55"/>
<line x1="382.20" y1="354.37" x2="384.80" y2="354.37" stroke="#555" stroke-width="0.55"/>
<text x="381.50" y="372.90" font-size="5.6" text-anchor="middle" font-style="italic" textLength="16.68" lengthAdjust="spacingAndGlyphs" stroke="#1a1a1a" stroke-width="0.1">PDK1</text>
<rect x="397.95" y="350.66" width="7.20" height="14.84" fill="#000"/>
<rect x="405.45" y="329.14" width="6.90" height="36.36" fill="#8e8e8e" stroke="#444" stroke-width="0.6"/>
<line x1="408.75" y1="320.24" x2="408.75" y2="338.79" stroke="#555" stroke-width="0.55"/>
<line x1="407.45" y1="320.24" x2="410.05" y2="320.24" stroke="#555" stroke-width="0.55"/>
<line x1="407.45" y1="338.79" x2="410.05" y2="338.79" stroke="#555" stroke-width="0.55"/>
<ellipse cx="408.75" cy="315.64" rx="1.55" ry="1.15" fill="#111"/>
<text x="405.70" y="372.90" font-size="5.6" text-anchor="middle" font-style="italic" textLength="12.42" lengthAdjust="spacingAndGlyphs" stroke="#1a1a1a" stroke-width="0.1">HK1</text>
<rect x="423.20" y="350.66" width="7.20" height="14.84" fill="#000"/>
<rect x="430.70" y="338.79" width="6.90" height="26.71" fill="#8e8e8e" stroke="#444" stroke-width="0.6"/>
<line x1="434.00" y1="330.63" x2="434.00" y2="346.21" stroke="#555" stroke-width="0.55"/>
<line x1="432.70" y1="330.63" x2="435.30" y2="330.63" stroke="#555" stroke-width="0.55"/>
<line x1="432.70" y1="346.21" x2="435.30" y2="346.21" stroke="#555" stroke-width="0.55"/>
<text x="429.40" y="372.90" font-size="5.6" text-anchor="middle" font-style="italic" textLength="17.38" lengthAdjust="spacingAndGlyphs" stroke="#1a1a1a" stroke-width="0.1">VEGF</text>
<rect x="448.45" y="350.66" width="7.20" height="14.84" fill="#000"/>
<rect x="455.95" y="324.69" width="6.90" height="40.81" fill="#8e8e8e" stroke="#444" stroke-width="0.6"/>
<line x1="459.25" y1="316.53" x2="459.25" y2="332.85" stroke="#555" stroke-width="0.55"/>
<line x1="457.95" y1="316.53" x2="460.55" y2="316.53" stroke="#555" stroke-width="0.55"/>
<line x1="457.95" y1="332.85" x2="460.55" y2="332.85" stroke="#555" stroke-width="0.55"/>
<ellipse cx="459.25" cy="311.93" rx="1.55" ry="1.15" fill="#111"/>
<text x="455.70" y="372.90" font-size="5.6" text-anchor="middle" font-style="italic" textLength="18.45" lengthAdjust="spacingAndGlyphs" stroke="#1a1a1a" stroke-width="0.1">BNIP3</text>
<rect x="473.70" y="350.66" width="7.20" height="14.84" fill="#000"/>
<rect x="481.20" y="322.46" width="6.90" height="43.04" fill="#fff" stroke="#444" stroke-width="0.6"/>
<line x1="484.50" y1="313.56" x2="484.50" y2="330.63" stroke="#555" stroke-width="0.55"/>
<line x1="483.20" y1="313.56" x2="485.80" y2="313.56" stroke="#555" stroke-width="0.55"/>
<line x1="483.20" y1="330.63" x2="485.80" y2="330.63" stroke="#555" stroke-width="0.55"/>
<ellipse cx="484.50" cy="308.96" rx="1.55" ry="1.15" fill="#111"/>
<text x="481.20" y="372.90" font-size="5.6" text-anchor="middle" font-style="italic" textLength="21.64" lengthAdjust="spacingAndGlyphs" stroke="#1a1a1a" stroke-width="0.1">RUNX1</text>
<rect x="498.95" y="350.66" width="7.20" height="14.84" fill="#000"/>
<rect x="506.45" y="341.01" width="6.90" height="24.49" fill="#fff" stroke="#444" stroke-width="0.6"/>
<line x1="509.75" y1="332.11" x2="509.75" y2="349.18" stroke="#555" stroke-width="0.55"/>
<line x1="508.45" y1="332.11" x2="511.05" y2="332.11" stroke="#555" stroke-width="0.55"/>
<line x1="508.45" y1="349.18" x2="511.05" y2="349.18" stroke="#555" stroke-width="0.55"/>
<text x="506.40" y="372.90" font-size="5.6" text-anchor="middle" font-style="italic" textLength="18.45" lengthAdjust="spacingAndGlyphs" stroke="#1a1a1a" stroke-width="0.1">NF-E2</text>
<text x="423.00" y="293.60" font-size="7.6" text-anchor="middle" font-weight="bold" textLength="51.87" lengthAdjust="spacingAndGlyphs" fill="#000">VHL R200W</text>
<text x="0" y="0" font-size="5.871687587168759" text-anchor="middle" textLength="42.10" lengthAdjust="spacingAndGlyphs" fill="#111" stroke="#111" stroke-width="0.38" transform="translate(305.40 329.80) scale(1.3 1) rotate(-90)">Expression ratio</text>
<text x="21.30" y="388.20" font-size="7.4" font-weight="bold" textLength="7.40" lengthAdjust="spacingAndGlyphs" fill="#111" stroke="#111" stroke-width="0.2">iii</text>
<line x1="50.00" y1="392.58" x2="50.00" y2="465.10" stroke="#606060" stroke-width="0.9"/>
<line x1="50.00" y1="465.10" x2="241.00" y2="465.10" stroke="#606060" stroke-width="0.9"/>
<line x1="48.40" y1="465.10" x2="50.00" y2="465.10" stroke="#606060" stroke-width="0.5"/>
<text x="45.00" y="466.79" font-size="4.7" text-anchor="end" fill="#2a2a2a" stroke="#2a2a2a" stroke-width="0.15">0</text>
<line x1="48.40" y1="454.74" x2="50.00" y2="454.74" stroke="#606060" stroke-width="0.5"/>
<text x="45.00" y="456.43" font-size="4.7" text-anchor="end" fill="#2a2a2a" stroke="#2a2a2a" stroke-width="0.15">2</text>
<line x1="48.40" y1="444.38" x2="50.00" y2="444.38" stroke="#606060" stroke-width="0.5"/>
<text x="45.00" y="446.07" font-size="4.7" text-anchor="end" fill="#2a2a2a" stroke="#2a2a2a" stroke-width="0.15">4</text>
<line x1="48.40" y1="434.02" x2="50.00" y2="434.02" stroke="#606060" stroke-width="0.5"/>
<text x="45.00" y="435.71" font-size="4.7" text-anchor="end" fill="#2a2a2a" stroke="#2a2a2a" stroke-width="0.15">6</text>
<line x1="48.40" y1="423.66" x2="50.00" y2="423.66" stroke="#606060" stroke-width="0.5"/>
<text x="45.00" y="425.35" font-size="4.7" text-anchor="end" fill="#2a2a2a" stroke="#2a2a2a" stroke-width="0.15">8</text>
<line x1="48.40" y1="413.30" x2="50.00" y2="413.30" stroke="#606060" stroke-width="0.5"/>
<text x="45.00" y="414.99" font-size="4.7" text-anchor="end" fill="#2a2a2a" stroke="#2a2a2a" stroke-width="0.15">10</text>
<line x1="48.40" y1="402.94" x2="50.00" y2="402.94" stroke="#606060" stroke-width="0.5"/>
<text x="45.00" y="404.63" font-size="4.7" text-anchor="end" fill="#2a2a2a" stroke="#2a2a2a" stroke-width="0.15">12</text>
<line x1="48.40" y1="392.58" x2="50.00" y2="392.58" stroke="#606060" stroke-width="0.5"/>
<text x="45.00" y="394.27" font-size="4.7" text-anchor="end" fill="#2a2a2a" stroke="#2a2a2a" stroke-width="0.15">14</text>
<line x1="74.60" y1="465.10" x2="74.60" y2="466.70" stroke="#606060" stroke-width="0.45"/>
<line x1="99.20" y1="465.10" x2="99.20" y2="466.70" stroke="#606060" stroke-width="0.45"/>
<line x1="123.80" y1="465.10" x2="123.80" y2="466.70" stroke="#606060" stroke-width="0.45"/>
<line x1="148.40" y1="465.10" x2="148.40" y2="466.70" stroke="#606060" stroke-width="0.45"/>
<line x1="173.00" y1="465.10" x2="173.00" y2="466.70" stroke="#606060" stroke-width="0.45"/>
<line x1="197.60" y1="465.10" x2="197.60" y2="466.70" stroke="#606060" stroke-width="0.45"/>
<line x1="222.20" y1="465.10" x2="222.20" y2="466.70" stroke="#606060" stroke-width="0.45"/>
<rect x="55.20" y="459.92" width="7.10" height="5.18" fill="#000"/>
<rect x="62.60" y="441.89" width="6.80" height="23.21" fill="#8e8e8e" stroke="#444" stroke-width="0.6"/>
<line x1="65.85" y1="437.65" x2="65.85" y2="445.42" stroke="#555" stroke-width="0.55"/>
<line x1="64.55" y1="437.65" x2="67.15" y2="437.65" stroke="#555" stroke-width="0.55"/>
<line x1="64.55" y1="445.42" x2="67.15" y2="445.42" stroke="#555" stroke-width="0.55"/>
<ellipse cx="65.85" cy="433.05" rx="1.55" ry="1.15" fill="#111"/>
<text x="62.20" y="472.50" font-size="5.6" text-anchor="middle" font-style="italic" textLength="17.02" lengthAdjust="spacingAndGlyphs" stroke="#1a1a1a" stroke-width="0.1">TFRC</text>
<rect x="79.80" y="459.92" width="7.10" height="5.18" fill="#000"/>
<rect x="87.20" y="439.72" width="6.80" height="25.38" fill="#8e8e8e" stroke="#444" stroke-width="0.6"/>
<line x1="90.45" y1="433.50" x2="90.45" y2="445.93" stroke="#555" stroke-width="0.55"/>
<line x1="89.15" y1="433.50" x2="91.75" y2="433.50" stroke="#555" stroke-width="0.55"/>
<line x1="89.15" y1="445.93" x2="91.75" y2="445.93" stroke="#555" stroke-width="0.55"/>
<ellipse cx="90.45" cy="428.90" rx="1.55" ry="1.15" fill="#111"/>
<text x="86.60" y="472.50" font-size="5.6" text-anchor="middle" font-style="italic" textLength="23.78" lengthAdjust="spacingAndGlyphs" stroke="#1a1a1a" stroke-width="0.1">SLC2A1</text>
<rect x="104.40" y="459.92" width="7.10" height="5.18" fill="#000"/>
<rect x="111.80" y="453.19" width="6.80" height="11.91" fill="#8e8e8e" stroke="#444" stroke-width="0.6"/>
<line x1="115.05" y1="450.60" x2="115.05" y2="455.26" stroke="#555" stroke-width="0.55"/>
<line x1="113.75" y1="450.60" x2="116.35" y2="450.60" stroke="#555" stroke-width="0.55"/>
<line x1="113.75" y1="455.26" x2="116.35" y2="455.26" stroke="#555" stroke-width="0.55"/>
<ellipse cx="112.90" cy="446.00" rx="1.55" ry="1.15" fill="#111"/>
<ellipse cx="117.20" cy="446.00" rx="1.55" ry="1.15" fill="#111"/>
<text x="111.60" y="472.50" font-size="5.6" text-anchor="middle" font-style="italic" textLength="16.68" lengthAdjust="spacingAndGlyphs" stroke="#1a1a1a" stroke-width="0.1">PDK1</text>
<rect x="129.00" y="459.92" width="7.10" height="5.18" fill="#000"/>
<rect x="136.40" y="451.11" width="6.80" height="13.99" fill="#8e8e8e" stroke="#444" stroke-width="0.6"/>
<line x1="139.65" y1="446.45" x2="139.65" y2="455.78" stroke="#555" stroke-width="0.55"/>
<line x1="138.35" y1="446.45" x2="140.95" y2="446.45" stroke="#555" stroke-width="0.55"/>
<line x1="138.35" y1="455.78" x2="140.95" y2="455.78" stroke="#555" stroke-width="0.55"/>
<text x="136.60" y="472.50" font-size="5.6" text-anchor="middle" font-style="italic" textLength="12.42" lengthAdjust="spacingAndGlyphs" stroke="#1a1a1a" stroke-width="0.1">HK1</text>
<rect x="153.60" y="459.92" width="7.10" height="5.18" fill="#000"/>
<rect x="161.00" y="455.78" width="6.80" height="9.32" fill="#8e8e8e" stroke="#444" stroke-width="0.6"/>
<line x1="164.25" y1="452.15" x2="164.25" y2="458.88" stroke="#555" stroke-width="0.55"/>
<line x1="162.95" y1="452.15" x2="165.55" y2="452.15" stroke="#555" stroke-width="0.55"/>
<line x1="162.95" y1="458.88" x2="165.55" y2="458.88" stroke="#555" stroke-width="0.55"/>
<text x="159.00" y="472.50" font-size="5.6" text-anchor="middle" font-style="italic" textLength="17.38" lengthAdjust="spacingAndGlyphs" stroke="#1a1a1a" stroke-width="0.1">VEGF</text>
<rect x="178.20" y="459.92" width="7.10" height="5.18" fill="#000"/>
<rect x="185.60" y="425.73" width="6.80" height="39.37" fill="#8e8e8e" stroke="#444" stroke-width="0.6"/>
<line x1="188.85" y1="418.48" x2="188.85" y2="432.98" stroke="#555" stroke-width="0.55"/>
<line x1="187.55" y1="418.48" x2="190.15" y2="418.48" stroke="#555" stroke-width="0.55"/>
<line x1="187.55" y1="432.98" x2="190.15" y2="432.98" stroke="#555" stroke-width="0.55"/>
<ellipse cx="188.85" cy="413.88" rx="1.55" ry="1.15" fill="#111"/>
<text x="185.90" y="472.50" font-size="5.6" text-anchor="middle" font-style="italic" textLength="18.45" lengthAdjust="spacingAndGlyphs" stroke="#1a1a1a" stroke-width="0.1">BNIP3</text>
<rect x="202.80" y="459.92" width="7.10" height="5.18" fill="#000"/>
<rect x="210.20" y="401.39" width="6.80" height="63.71" fill="#fff" stroke="#444" stroke-width="0.6"/>
<line x1="213.45" y1="392.58" x2="213.45" y2="412.26" stroke="#555" stroke-width="0.55"/>
<line x1="212.15" y1="392.58" x2="214.75" y2="392.58" stroke="#555" stroke-width="0.55"/>
<line x1="212.15" y1="412.26" x2="214.75" y2="412.26" stroke="#555" stroke-width="0.55"/>
<ellipse cx="213.45" cy="388.98" rx="1.55" ry="1.15" fill="#111"/>
<text x="210.00" y="472.50" font-size="5.6" text-anchor="middle" font-style="italic" textLength="21.64" lengthAdjust="spacingAndGlyphs" stroke="#1a1a1a" stroke-width="0.1">RUNX1</text>
<rect x="227.40" y="459.92" width="7.10" height="5.18" fill="#000"/>
<rect x="234.80" y="446.97" width="6.80" height="18.13" fill="#fff" stroke="#444" stroke-width="0.6"/>
<line x1="238.05" y1="444.90" x2="238.05" y2="449.56" stroke="#555" stroke-width="0.55"/>
<line x1="236.75" y1="444.90" x2="239.35" y2="444.90" stroke="#555" stroke-width="0.55"/>
<line x1="236.75" y1="449.56" x2="239.35" y2="449.56" stroke="#555" stroke-width="0.55"/>
<ellipse cx="238.05" cy="440.30" rx="1.55" ry="1.15" fill="#111"/>
<text x="234.60" y="472.50" font-size="5.6" text-anchor="middle" font-style="italic" textLength="18.45" lengthAdjust="spacingAndGlyphs" stroke="#1a1a1a" stroke-width="0.1">NF-E2</text>
<text x="147.00" y="398.00" font-size="7.6" text-anchor="middle" font-weight="bold" textLength="58.40" lengthAdjust="spacingAndGlyphs" fill="#000">HIF2A M535V</text>
<text x="0" y="0" font-size="5.829846582984658" text-anchor="middle" textLength="41.80" lengthAdjust="spacingAndGlyphs" fill="#111" stroke="#111" stroke-width="0.38" transform="translate(36.50 432.44) scale(1.3 1) rotate(-90)">Expression ratio</text>
<text x="288.60" y="387.00" font-size="7.4" font-weight="bold" textLength="7.41" lengthAdjust="spacingAndGlyphs" fill="#111" stroke="#111" stroke-width="0.2">iv</text>
<line x1="317.20" y1="391.30" x2="317.20" y2="465.00" stroke="#606060" stroke-width="0.9"/>
<line x1="317.20" y1="465.00" x2="518.00" y2="465.00" stroke="#606060" stroke-width="0.9"/>
<line x1="315.60" y1="465.00" x2="317.20" y2="465.00" stroke="#606060" stroke-width="0.5"/>
<text x="312.20" y="466.69" font-size="4.7" text-anchor="end" fill="#2a2a2a" stroke="#2a2a2a" stroke-width="0.15">0</text>
<line x1="315.60" y1="450.26" x2="317.20" y2="450.26" stroke="#606060" stroke-width="0.5"/>
<text x="312.20" y="451.95" font-size="4.7" text-anchor="end" fill="#2a2a2a" stroke="#2a2a2a" stroke-width="0.15">2</text>
<line x1="315.60" y1="435.52" x2="317.20" y2="435.52" stroke="#606060" stroke-width="0.5"/>
<text x="312.20" y="437.21" font-size="4.7" text-anchor="end" fill="#2a2a2a" stroke="#2a2a2a" stroke-width="0.15">4</text>
<line x1="315.60" y1="420.78" x2="317.20" y2="420.78" stroke="#606060" stroke-width="0.5"/>
<text x="312.20" y="422.47" font-size="4.7" text-anchor="end" fill="#2a2a2a" stroke="#2a2a2a" stroke-width="0.15">6</text>
<line x1="315.60" y1="406.04" x2="317.20" y2="406.04" stroke="#606060" stroke-width="0.5"/>
<text x="312.20" y="407.73" font-size="4.7" text-anchor="end" fill="#2a2a2a" stroke="#2a2a2a" stroke-width="0.15">8</text>
<line x1="315.60" y1="391.30" x2="317.20" y2="391.30" stroke="#606060" stroke-width="0.5"/>
<text x="312.20" y="392.99" font-size="4.7" text-anchor="end" fill="#2a2a2a" stroke="#2a2a2a" stroke-width="0.15">10</text>
<line x1="342.00" y1="465.00" x2="342.00" y2="466.60" stroke="#606060" stroke-width="0.45"/>
<line x1="367.20" y1="465.00" x2="367.20" y2="466.60" stroke="#606060" stroke-width="0.45"/>
<line x1="392.40" y1="465.00" x2="392.40" y2="466.60" stroke="#606060" stroke-width="0.45"/>
<line x1="417.60" y1="465.00" x2="417.60" y2="466.60" stroke="#606060" stroke-width="0.45"/>
<line x1="442.80" y1="465.00" x2="442.80" y2="466.60" stroke="#606060" stroke-width="0.45"/>
<line x1="468.00" y1="465.00" x2="468.00" y2="466.60" stroke="#606060" stroke-width="0.45"/>
<line x1="493.20" y1="465.00" x2="493.20" y2="466.60" stroke="#606060" stroke-width="0.45"/>
<line x1="518.40" y1="465.00" x2="518.40" y2="466.60" stroke="#606060" stroke-width="0.45"/>
<rect x="322.20" y="457.63" width="7.20" height="7.37" fill="#000"/>
<rect x="329.70" y="447.31" width="6.90" height="17.69" fill="#8e8e8e" stroke="#444" stroke-width="0.6"/>
<line x1="333.00" y1="442.15" x2="333.00" y2="451.73" stroke="#555" stroke-width="0.55"/>
<line x1="331.70" y1="442.15" x2="334.30" y2="442.15" stroke="#555" stroke-width="0.55"/>
<line x1="331.70" y1="451.73" x2="334.30" y2="451.73" stroke="#555" stroke-width="0.55"/>
<text x="331.20" y="472.40" font-size="5.6" text-anchor="middle" font-style="italic" textLength="17.02" lengthAdjust="spacingAndGlyphs" stroke="#1a1a1a" stroke-width="0.1">TFRC</text>
<rect x="347.40" y="457.63" width="7.20" height="7.37" fill="#000"/>
<rect x="354.90" y="450.26" width="6.90" height="14.74" fill="#8e8e8e" stroke="#444" stroke-width="0.6"/>
<line x1="358.20" y1="445.10" x2="358.20" y2="455.42" stroke="#555" stroke-width="0.55"/>
<line x1="356.90" y1="445.10" x2="359.50" y2="445.10" stroke="#555" stroke-width="0.55"/>
<line x1="356.90" y1="455.42" x2="359.50" y2="455.42" stroke="#555" stroke-width="0.55"/>
<text x="356.70" y="472.40" font-size="5.6" text-anchor="middle" font-style="italic" textLength="23.78" lengthAdjust="spacingAndGlyphs" stroke="#1a1a1a" stroke-width="0.1">SLC2A1</text>
<rect x="372.60" y="457.63" width="7.20" height="7.37" fill="#000"/>
<rect x="380.10" y="452.10" width="6.90" height="12.90" fill="#8e8e8e" stroke="#444" stroke-width="0.6"/>
<line x1="383.40" y1="449.52" x2="383.40" y2="454.68" stroke="#555" stroke-width="0.55"/>
<line x1="382.10" y1="449.52" x2="384.70" y2="449.52" stroke="#555" stroke-width="0.55"/>
<line x1="382.10" y1="454.68" x2="384.70" y2="454.68" stroke="#555" stroke-width="0.55"/>
<text x="381.30" y="472.40" font-size="5.6" text-anchor="middle" font-style="italic" textLength="16.68" lengthAdjust="spacingAndGlyphs" stroke="#1a1a1a" stroke-width="0.1">PDK1</text>
<rect x="397.80" y="457.63" width="7.20" height="7.37" fill="#000"/>
<rect x="405.30" y="418.57" width="6.90" height="46.43" fill="#8e8e8e" stroke="#444" stroke-width="0.6"/>
<line x1="408.60" y1="411.57" x2="408.60" y2="425.94" stroke="#555" stroke-width="0.55"/>
<line x1="407.30" y1="411.57" x2="409.90" y2="411.57" stroke="#555" stroke-width="0.55"/>
<line x1="407.30" y1="425.94" x2="409.90" y2="425.94" stroke="#555" stroke-width="0.55"/>
<ellipse cx="406.45" cy="406.97" rx="1.55" ry="1.15" fill="#111"/>
<ellipse cx="410.75" cy="406.97" rx="1.55" ry="1.15" fill="#111"/>
<text x="406.10" y="472.40" font-size="5.6" text-anchor="middle" font-style="italic" textLength="12.42" lengthAdjust="spacingAndGlyphs" stroke="#1a1a1a" stroke-width="0.1">HK1</text>
<rect x="423.00" y="457.63" width="7.20" height="7.37" fill="#000"/>
<rect x="430.50" y="453.94" width="6.90" height="11.05" fill="#8e8e8e" stroke="#444" stroke-width="0.6"/>
<line x1="433.80" y1="450.26" x2="433.80" y2="457.63" stroke="#555" stroke-width="0.55"/>
<line x1="432.50" y1="450.26" x2="435.10" y2="450.26" stroke="#555" stroke-width="0.55"/>
<line x1="432.50" y1="457.63" x2="435.10" y2="457.63" stroke="#555" stroke-width="0.55"/>
<text x="428.50" y="472.40" font-size="5.6" text-anchor="middle" font-style="italic" textLength="17.38" lengthAdjust="spacingAndGlyphs" stroke="#1a1a1a" stroke-width="0.1">VEGF</text>
<rect x="448.20" y="457.63" width="7.20" height="7.37" fill="#000"/>
<rect x="455.70" y="446.57" width="6.90" height="18.43" fill="#8e8e8e" stroke="#444" stroke-width="0.6"/>
<line x1="459.00" y1="441.42" x2="459.00" y2="451.73" stroke="#555" stroke-width="0.55"/>
<line x1="457.70" y1="441.42" x2="460.30" y2="441.42" stroke="#555" stroke-width="0.55"/>
<line x1="457.70" y1="451.73" x2="460.30" y2="451.73" stroke="#555" stroke-width="0.55"/>
<text x="454.90" y="472.40" font-size="5.6" text-anchor="middle" font-style="italic" textLength="18.45" lengthAdjust="spacingAndGlyphs" stroke="#1a1a1a" stroke-width="0.1">BNIP3</text>
<rect x="473.40" y="457.63" width="7.20" height="7.37" fill="#000"/>
<rect x="480.90" y="424.46" width="6.90" height="40.54" fill="#fff" stroke="#444" stroke-width="0.6"/>
<line x1="484.20" y1="418.57" x2="484.20" y2="431.10" stroke="#555" stroke-width="0.55"/>
<line x1="482.90" y1="418.57" x2="485.50" y2="418.57" stroke="#555" stroke-width="0.55"/>
<line x1="482.90" y1="431.10" x2="485.50" y2="431.10" stroke="#555" stroke-width="0.55"/>
<ellipse cx="484.20" cy="413.97" rx="1.55" ry="1.15" fill="#111"/>
<text x="479.70" y="472.40" font-size="5.6" text-anchor="middle" font-style="italic" textLength="21.64" lengthAdjust="spacingAndGlyphs" stroke="#1a1a1a" stroke-width="0.1">RUNX1</text>
<rect x="498.60" y="457.63" width="7.20" height="7.37" fill="#000"/>
<rect x="506.10" y="443.77" width="6.90" height="21.23" fill="#fff" stroke="#444" stroke-width="0.6"/>
<line x1="509.40" y1="440.68" x2="509.40" y2="447.31" stroke="#555" stroke-width="0.55"/>
<line x1="508.10" y1="440.68" x2="510.70" y2="440.68" stroke="#555" stroke-width="0.55"/>
<line x1="508.10" y1="447.31" x2="510.70" y2="447.31" stroke="#555" stroke-width="0.55"/>
<text x="503.90" y="472.40" font-size="5.6" text-anchor="middle" font-style="italic" textLength="18.45" lengthAdjust="spacingAndGlyphs" stroke="#1a1a1a" stroke-width="0.1">NF-E2</text>
<text x="425.00" y="398.00" font-size="7.6" text-anchor="middle" font-weight="bold" textLength="58.40" lengthAdjust="spacingAndGlyphs" fill="#000">HIF2A G537R</text>
<text x="0" y="0" font-size="5.92747559274756" text-anchor="middle" textLength="42.50" lengthAdjust="spacingAndGlyphs" fill="#111" stroke="#111" stroke-width="0.38" transform="translate(305.20 432.15) scale(1.3 1) rotate(-90)">Expression ratio</text>
<text x="22.60" y="483.60" font-size="7.4" font-weight="bold" textLength="4.94" lengthAdjust="spacingAndGlyphs" fill="#111" stroke="#111" stroke-width="0.2">v</text>
<line x1="50.00" y1="488.30" x2="50.00" y2="564.30" stroke="#606060" stroke-width="0.9"/>
<line x1="50.00" y1="564.30" x2="242.00" y2="564.30" stroke="#606060" stroke-width="0.9"/>
<line x1="48.40" y1="564.30" x2="50.00" y2="564.30" stroke="#606060" stroke-width="0.5"/>
<text x="45.00" y="565.99" font-size="4.7" text-anchor="end" fill="#2a2a2a" stroke="#2a2a2a" stroke-width="0.15">0</text>
<line x1="48.40" y1="549.10" x2="50.00" y2="549.10" stroke="#606060" stroke-width="0.5"/>
<text x="45.00" y="550.79" font-size="4.7" text-anchor="end" fill="#2a2a2a" stroke="#2a2a2a" stroke-width="0.15">4</text>
<line x1="48.40" y1="533.90" x2="50.00" y2="533.90" stroke="#606060" stroke-width="0.5"/>
<text x="45.00" y="535.59" font-size="4.7" text-anchor="end" fill="#2a2a2a" stroke="#2a2a2a" stroke-width="0.15">8</text>
<line x1="48.40" y1="518.70" x2="50.00" y2="518.70" stroke="#606060" stroke-width="0.5"/>
<text x="45.00" y="520.39" font-size="4.7" text-anchor="end" fill="#2a2a2a" stroke="#2a2a2a" stroke-width="0.15">12</text>
<line x1="48.40" y1="503.50" x2="50.00" y2="503.50" stroke="#606060" stroke-width="0.5"/>
<text x="45.00" y="505.19" font-size="4.7" text-anchor="end" fill="#2a2a2a" stroke="#2a2a2a" stroke-width="0.15">16</text>
<line x1="48.40" y1="488.30" x2="50.00" y2="488.30" stroke="#606060" stroke-width="0.5"/>
<text x="45.00" y="489.99" font-size="4.7" text-anchor="end" fill="#2a2a2a" stroke="#2a2a2a" stroke-width="0.15">20</text>
<line x1="74.35" y1="564.30" x2="74.35" y2="565.90" stroke="#606060" stroke-width="0.45"/>
<line x1="99.05" y1="564.30" x2="99.05" y2="565.90" stroke="#606060" stroke-width="0.45"/>
<line x1="123.75" y1="564.30" x2="123.75" y2="565.90" stroke="#606060" stroke-width="0.45"/>
<line x1="148.45" y1="564.30" x2="148.45" y2="565.90" stroke="#606060" stroke-width="0.45"/>
<line x1="173.15" y1="564.30" x2="173.15" y2="565.90" stroke="#606060" stroke-width="0.45"/>
<line x1="197.85" y1="564.30" x2="197.85" y2="565.90" stroke="#606060" stroke-width="0.45"/>
<line x1="222.55" y1="564.30" x2="222.55" y2="565.90" stroke="#606060" stroke-width="0.45"/>
<rect x="55.00" y="560.50" width="7.00" height="3.80" fill="#000"/>
<rect x="62.30" y="543.40" width="6.70" height="20.90" fill="#8e8e8e" stroke="#444" stroke-width="0.6"/>
<line x1="65.50" y1="540.36" x2="65.50" y2="546.82" stroke="#555" stroke-width="0.55"/>
<line x1="64.20" y1="540.36" x2="66.80" y2="540.36" stroke="#555" stroke-width="0.55"/>
<line x1="64.20" y1="546.82" x2="66.80" y2="546.82" stroke="#555" stroke-width="0.55"/>
<ellipse cx="63.35" cy="535.76" rx="1.55" ry="1.15" fill="#111"/>
<ellipse cx="67.65" cy="535.76" rx="1.55" ry="1.15" fill="#111"/>
<text x="63.00" y="571.70" font-size="5.6" text-anchor="middle" font-style="italic" textLength="17.02" lengthAdjust="spacingAndGlyphs" stroke="#1a1a1a" stroke-width="0.1">TFRC</text>
<rect x="79.70" y="560.50" width="7.00" height="3.80" fill="#000"/>
<rect x="87.00" y="553.66" width="6.70" height="10.64" fill="#8e8e8e" stroke="#444" stroke-width="0.6"/>
<line x1="90.20" y1="550.62" x2="90.20" y2="557.08" stroke="#555" stroke-width="0.55"/>
<line x1="88.90" y1="550.62" x2="91.50" y2="550.62" stroke="#555" stroke-width="0.55"/>
<line x1="88.90" y1="557.08" x2="91.50" y2="557.08" stroke="#555" stroke-width="0.55"/>
<text x="87.50" y="571.70" font-size="5.6" text-anchor="middle" font-style="italic" textLength="23.78" lengthAdjust="spacingAndGlyphs" stroke="#1a1a1a" stroke-width="0.1">SLC2A1</text>
<rect x="104.40" y="560.50" width="7.00" height="3.80" fill="#000"/>
<rect x="111.70" y="559.36" width="6.70" height="4.94" fill="#8e8e8e" stroke="#444" stroke-width="0.6"/>
<line x1="114.90" y1="558.22" x2="114.90" y2="560.50" stroke="#555" stroke-width="0.55"/>
<line x1="113.60" y1="558.22" x2="116.20" y2="558.22" stroke="#555" stroke-width="0.55"/>
<line x1="113.60" y1="560.50" x2="116.20" y2="560.50" stroke="#555" stroke-width="0.55"/>
<text x="112.80" y="571.70" font-size="5.6" text-anchor="middle" font-style="italic" textLength="16.68" lengthAdjust="spacingAndGlyphs" stroke="#1a1a1a" stroke-width="0.1">PDK1</text>
<rect x="129.10" y="560.50" width="7.00" height="3.80" fill="#000"/>
<rect x="136.40" y="556.32" width="6.70" height="7.98" fill="#8e8e8e" stroke="#444" stroke-width="0.6"/>
<line x1="139.60" y1="553.66" x2="139.60" y2="558.98" stroke="#555" stroke-width="0.55"/>
<line x1="138.30" y1="553.66" x2="140.90" y2="553.66" stroke="#555" stroke-width="0.55"/>
<line x1="138.30" y1="558.98" x2="140.90" y2="558.98" stroke="#555" stroke-width="0.55"/>
<text x="137.50" y="571.70" font-size="5.6" text-anchor="middle" font-style="italic" textLength="12.42" lengthAdjust="spacingAndGlyphs" stroke="#1a1a1a" stroke-width="0.1">HK1</text>
<rect x="153.80" y="560.50" width="7.00" height="3.80" fill="#000"/>
<rect x="161.10" y="501.22" width="6.70" height="63.08" fill="#8e8e8e" stroke="#444" stroke-width="0.6"/>
<line x1="164.30" y1="492.10" x2="164.30" y2="509.20" stroke="#555" stroke-width="0.55"/>
<line x1="163.00" y1="492.10" x2="165.60" y2="492.10" stroke="#555" stroke-width="0.55"/>
<line x1="163.00" y1="509.20" x2="165.60" y2="509.20" stroke="#555" stroke-width="0.55"/>
<ellipse cx="162.15" cy="487.50" rx="1.55" ry="1.15" fill="#111"/>
<ellipse cx="166.45" cy="487.50" rx="1.55" ry="1.15" fill="#111"/>
<text x="159.90" y="571.70" font-size="5.6" text-anchor="middle" font-style="italic" textLength="17.38" lengthAdjust="spacingAndGlyphs" stroke="#1a1a1a" stroke-width="0.1">VEGF</text>
<rect x="178.50" y="560.50" width="7.00" height="3.80" fill="#000"/>
<rect x="185.80" y="544.54" width="6.70" height="19.76" fill="#8e8e8e" stroke="#444" stroke-width="0.6"/>
<line x1="189.00" y1="540.36" x2="189.00" y2="548.34" stroke="#555" stroke-width="0.55"/>
<line x1="187.70" y1="540.36" x2="190.30" y2="540.36" stroke="#555" stroke-width="0.55"/>
<line x1="187.70" y1="548.34" x2="190.30" y2="548.34" stroke="#555" stroke-width="0.55"/>
<ellipse cx="186.85" cy="535.76" rx="1.55" ry="1.15" fill="#111"/>
<ellipse cx="191.15" cy="535.76" rx="1.55" ry="1.15" fill="#111"/>
<text x="186.40" y="571.70" font-size="5.6" text-anchor="middle" font-style="italic" textLength="18.45" lengthAdjust="spacingAndGlyphs" stroke="#1a1a1a" stroke-width="0.1">BNIP3</text>
<rect x="203.20" y="560.50" width="7.00" height="3.80" fill="#000"/>
<rect x="210.50" y="496.28" width="6.70" height="68.02" fill="#fff" stroke="#444" stroke-width="0.6"/>
<line x1="213.70" y1="488.30" x2="213.70" y2="501.60" stroke="#555" stroke-width="0.55"/>
<line x1="212.40" y1="488.30" x2="215.00" y2="488.30" stroke="#555" stroke-width="0.55"/>
<line x1="212.40" y1="501.60" x2="215.00" y2="501.60" stroke="#555" stroke-width="0.55"/>
<ellipse cx="211.55" cy="485.40" rx="1.55" ry="1.15" fill="#111"/>
<ellipse cx="215.85" cy="485.40" rx="1.55" ry="1.15" fill="#111"/>
<text x="211.40" y="571.70" font-size="5.6" text-anchor="middle" font-style="italic" textLength="21.64" lengthAdjust="spacingAndGlyphs" stroke="#1a1a1a" stroke-width="0.1">RUNX1</text>
<rect x="227.90" y="560.50" width="7.00" height="3.80" fill="#000"/>
<rect x="235.20" y="549.10" width="6.70" height="15.20" fill="#fff" stroke="#444" stroke-width="0.6"/>
<line x1="238.40" y1="546.06" x2="238.40" y2="551.76" stroke="#555" stroke-width="0.55"/>
<line x1="237.10" y1="546.06" x2="239.70" y2="546.06" stroke="#555" stroke-width="0.55"/>
<line x1="237.10" y1="551.76" x2="239.70" y2="551.76" stroke="#555" stroke-width="0.55"/>
<ellipse cx="238.40" cy="541.46" rx="1.55" ry="1.15" fill="#111"/>
<text x="235.40" y="571.70" font-size="5.6" text-anchor="middle" font-style="italic" textLength="18.45" lengthAdjust="spacingAndGlyphs" stroke="#1a1a1a" stroke-width="0.1">NF-E2</text>
<text x="132.00" y="491.20" font-size="7.6" text-anchor="middle" font-weight="bold" textLength="45.34" lengthAdjust="spacingAndGlyphs" fill="#000">LNK I257T</text>
<text x="0" y="0" font-size="5.843793584379358" text-anchor="middle" textLength="41.90" lengthAdjust="spacingAndGlyphs" fill="#111" stroke="#111" stroke-width="0.38" transform="translate(36.40 527.00) scale(1.3 1) rotate(-90)">Expression ratio</text>
<text x="289.60" y="482.20" font-size="7.4" font-weight="bold" textLength="7.41" lengthAdjust="spacingAndGlyphs" fill="#111" stroke="#111" stroke-width="0.2">vi</text>
<line x1="316.30" y1="488.80" x2="316.30" y2="563.80" stroke="#606060" stroke-width="0.9"/>
<line x1="316.30" y1="563.80" x2="518.00" y2="563.80" stroke="#606060" stroke-width="0.9"/>
<line x1="314.70" y1="563.80" x2="316.30" y2="563.80" stroke="#606060" stroke-width="0.5"/>
<text x="311.30" y="565.49" font-size="4.7" text-anchor="end" fill="#2a2a2a" stroke="#2a2a2a" stroke-width="0.15">0</text>
<line x1="314.70" y1="548.80" x2="316.30" y2="548.80" stroke="#606060" stroke-width="0.5"/>
<text x="311.30" y="550.49" font-size="4.7" text-anchor="end" fill="#2a2a2a" stroke="#2a2a2a" stroke-width="0.15">1</text>
<line x1="314.70" y1="533.80" x2="316.30" y2="533.80" stroke="#606060" stroke-width="0.5"/>
<text x="311.30" y="535.49" font-size="4.7" text-anchor="end" fill="#2a2a2a" stroke="#2a2a2a" stroke-width="0.15">2</text>
<line x1="314.70" y1="518.80" x2="316.30" y2="518.80" stroke="#606060" stroke-width="0.5"/>
<text x="311.30" y="520.49" font-size="4.7" text-anchor="end" fill="#2a2a2a" stroke="#2a2a2a" stroke-width="0.15">3</text>
<line x1="314.70" y1="503.80" x2="316.30" y2="503.80" stroke="#606060" stroke-width="0.5"/>
<text x="311.30" y="505.49" font-size="4.7" text-anchor="end" fill="#2a2a2a" stroke="#2a2a2a" stroke-width="0.15">4</text>
<line x1="314.70" y1="488.80" x2="316.30" y2="488.80" stroke="#606060" stroke-width="0.5"/>
<text x="311.30" y="490.49" font-size="4.7" text-anchor="end" fill="#2a2a2a" stroke="#2a2a2a" stroke-width="0.15">5</text>
<line x1="342.15" y1="563.80" x2="342.15" y2="565.40" stroke="#606060" stroke-width="0.45"/>
<line x1="367.25" y1="563.80" x2="367.25" y2="565.40" stroke="#606060" stroke-width="0.45"/>
<line x1="392.35" y1="563.80" x2="392.35" y2="565.40" stroke="#606060" stroke-width="0.45"/>
<line x1="417.45" y1="563.80" x2="417.45" y2="565.40" stroke="#606060" stroke-width="0.45"/>
<line x1="442.55" y1="563.80" x2="442.55" y2="565.40" stroke="#606060" stroke-width="0.45"/>
<line x1="467.65" y1="563.80" x2="467.65" y2="565.40" stroke="#606060" stroke-width="0.45"/>
<line x1="492.75" y1="563.80" x2="492.75" y2="565.40" stroke="#606060" stroke-width="0.45"/>
<line x1="517.85" y1="563.80" x2="517.85" y2="565.40" stroke="#606060" stroke-width="0.45"/>
<rect x="322.40" y="548.80" width="7.20" height="15.00" fill="#000"/>
<rect x="329.90" y="539.80" width="6.90" height="24.00" fill="#8e8e8e" stroke="#444" stroke-width="0.6"/>
<line x1="333.20" y1="534.55" x2="333.20" y2="545.05" stroke="#555" stroke-width="0.55"/>
<line x1="331.90" y1="534.55" x2="334.50" y2="534.55" stroke="#555" stroke-width="0.55"/>
<line x1="331.90" y1="545.05" x2="334.50" y2="545.05" stroke="#555" stroke-width="0.55"/>
<text x="330.70" y="571.20" font-size="5.6" text-anchor="middle" font-style="italic" textLength="17.02" lengthAdjust="spacingAndGlyphs" stroke="#1a1a1a" stroke-width="0.1">TFRC</text>
<rect x="347.50" y="548.80" width="7.20" height="15.00" fill="#000"/>
<rect x="355.00" y="545.05" width="6.90" height="18.75" fill="#8e8e8e" stroke="#444" stroke-width="0.6"/>
<line x1="358.30" y1="539.05" x2="358.30" y2="551.05" stroke="#555" stroke-width="0.55"/>
<line x1="357.00" y1="539.05" x2="359.60" y2="539.05" stroke="#555" stroke-width="0.55"/>
<line x1="357.00" y1="551.05" x2="359.60" y2="551.05" stroke="#555" stroke-width="0.55"/>
<text x="355.40" y="571.20" font-size="5.6" text-anchor="middle" font-style="italic" textLength="23.78" lengthAdjust="spacingAndGlyphs" stroke="#1a1a1a" stroke-width="0.1">SLC2A1</text>
<rect x="372.60" y="548.80" width="7.20" height="15.00" fill="#000"/>
<rect x="380.10" y="548.80" width="6.90" height="15.00" fill="#8e8e8e" stroke="#444" stroke-width="0.6"/>
<line x1="383.40" y1="544.30" x2="383.40" y2="553.30" stroke="#555" stroke-width="0.55"/>
<line x1="382.10" y1="544.30" x2="384.70" y2="544.30" stroke="#555" stroke-width="0.55"/>
<line x1="382.10" y1="553.30" x2="384.70" y2="553.30" stroke="#555" stroke-width="0.55"/>
<text x="380.60" y="571.20" font-size="5.6" text-anchor="middle" font-style="italic" textLength="16.68" lengthAdjust="spacingAndGlyphs" stroke="#1a1a1a" stroke-width="0.1">PDK1</text>
<rect x="397.70" y="548.80" width="7.20" height="15.00" fill="#000"/>
<rect x="405.20" y="549.55" width="6.90" height="14.25" fill="#8e8e8e" stroke="#444" stroke-width="0.6"/>
<line x1="408.50" y1="544.30" x2="408.50" y2="554.80" stroke="#555" stroke-width="0.55"/>
<line x1="407.20" y1="544.30" x2="409.80" y2="544.30" stroke="#555" stroke-width="0.55"/>
<line x1="407.20" y1="554.80" x2="409.80" y2="554.80" stroke="#555" stroke-width="0.55"/>
<text x="403.90" y="571.20" font-size="5.6" text-anchor="middle" font-style="italic" textLength="12.42" lengthAdjust="spacingAndGlyphs" stroke="#1a1a1a" stroke-width="0.1">HK1</text>
<rect x="422.80" y="548.80" width="7.20" height="15.00" fill="#000"/>
<rect x="430.30" y="539.80" width="6.90" height="24.00" fill="#8e8e8e" stroke="#444" stroke-width="0.6"/>
<line x1="433.60" y1="532.30" x2="433.60" y2="547.30" stroke="#555" stroke-width="0.55"/>
<line x1="432.30" y1="532.30" x2="434.90" y2="532.30" stroke="#555" stroke-width="0.55"/>
<line x1="432.30" y1="547.30" x2="434.90" y2="547.30" stroke="#555" stroke-width="0.55"/>
<text x="427.80" y="571.20" font-size="5.6" text-anchor="middle" font-style="italic" textLength="17.38" lengthAdjust="spacingAndGlyphs" stroke="#1a1a1a" stroke-width="0.1">VEGF</text>
<rect x="447.90" y="548.80" width="7.20" height="15.00" fill="#000"/>
<rect x="455.40" y="547.30" width="6.90" height="16.50" fill="#8e8e8e" stroke="#444" stroke-width="0.6"/>
<line x1="458.70" y1="542.05" x2="458.70" y2="551.80" stroke="#555" stroke-width="0.55"/>
<line x1="457.40" y1="542.05" x2="460.00" y2="542.05" stroke="#555" stroke-width="0.55"/>
<line x1="457.40" y1="551.80" x2="460.00" y2="551.80" stroke="#555" stroke-width="0.55"/>
<text x="453.90" y="571.20" font-size="5.6" text-anchor="middle" font-style="italic" textLength="18.45" lengthAdjust="spacingAndGlyphs" stroke="#1a1a1a" stroke-width="0.1">BNIP3</text>
<rect x="473.00" y="548.80" width="7.20" height="15.00" fill="#000"/>
<rect x="480.50" y="543.55" width="6.90" height="20.25" fill="#fff" stroke="#444" stroke-width="0.6"/>
<line x1="483.80" y1="536.80" x2="483.80" y2="550.30" stroke="#555" stroke-width="0.55"/>
<line x1="482.50" y1="536.80" x2="485.10" y2="536.80" stroke="#555" stroke-width="0.55"/>
<line x1="482.50" y1="550.30" x2="485.10" y2="550.30" stroke="#555" stroke-width="0.55"/>
<text x="479.00" y="571.20" font-size="5.6" text-anchor="middle" font-style="italic" textLength="21.64" lengthAdjust="spacingAndGlyphs" stroke="#1a1a1a" stroke-width="0.1">RUNX1</text>
<rect x="498.10" y="548.80" width="7.20" height="15.00" fill="#000"/>
<rect x="505.60" y="548.05" width="6.90" height="15.75" fill="#fff" stroke="#444" stroke-width="0.6"/>
<line x1="508.90" y1="541.30" x2="508.90" y2="554.80" stroke="#555" stroke-width="0.55"/>
<line x1="507.60" y1="541.30" x2="510.20" y2="541.30" stroke="#555" stroke-width="0.55"/>
<line x1="507.60" y1="554.80" x2="510.20" y2="554.80" stroke="#555" stroke-width="0.55"/>
<text x="505.20" y="571.20" font-size="5.6" text-anchor="middle" font-style="italic" textLength="18.45" lengthAdjust="spacingAndGlyphs" stroke="#1a1a1a" stroke-width="0.1">NF-E2</text>
<text x="423.40" y="491.40" font-size="7.6" text-anchor="middle" font-weight="bold" textLength="57.72" lengthAdjust="spacingAndGlyphs" fill="#000">EPOR Q434X</text>
<text x="0" y="0" font-size="5.99721059972106" text-anchor="middle" textLength="43.00" lengthAdjust="spacingAndGlyphs" fill="#111" stroke="#111" stroke-width="0.38" transform="translate(305.60 526.40) scale(1.3 1) rotate(-90)">Expression ratio</text>
<text x="22.20" y="586.00" font-size="7.4" font-weight="bold" textLength="9.87" lengthAdjust="spacingAndGlyphs" fill="#111" stroke="#111" stroke-width="0.2">vii</text>
<line x1="50.00" y1="590.00" x2="50.00" y2="665.80" stroke="#606060" stroke-width="0.9"/>
<line x1="50.00" y1="665.80" x2="250.00" y2="665.80" stroke="#606060" stroke-width="0.9"/>
<line x1="48.40" y1="665.80" x2="50.00" y2="665.80" stroke="#606060" stroke-width="0.5"/>
<text x="45.00" y="667.49" font-size="4.7" text-anchor="end" fill="#2a2a2a" stroke="#2a2a2a" stroke-width="0.15">0</text>
<line x1="48.40" y1="650.64" x2="50.00" y2="650.64" stroke="#606060" stroke-width="0.5"/>
<text x="45.00" y="652.33" font-size="4.7" text-anchor="end" fill="#2a2a2a" stroke="#2a2a2a" stroke-width="0.15">1</text>
<line x1="48.40" y1="635.48" x2="50.00" y2="635.48" stroke="#606060" stroke-width="0.5"/>
<text x="45.00" y="637.17" font-size="4.7" text-anchor="end" fill="#2a2a2a" stroke="#2a2a2a" stroke-width="0.15">2</text>
<line x1="48.40" y1="620.32" x2="50.00" y2="620.32" stroke="#606060" stroke-width="0.5"/>
<text x="45.00" y="622.01" font-size="4.7" text-anchor="end" fill="#2a2a2a" stroke="#2a2a2a" stroke-width="0.15">3</text>
<line x1="48.40" y1="605.16" x2="50.00" y2="605.16" stroke="#606060" stroke-width="0.5"/>
<text x="45.00" y="606.85" font-size="4.7" text-anchor="end" fill="#2a2a2a" stroke="#2a2a2a" stroke-width="0.15">4</text>
<line x1="48.40" y1="590.00" x2="50.00" y2="590.00" stroke="#606060" stroke-width="0.5"/>
<text x="45.00" y="591.69" font-size="4.7" text-anchor="end" fill="#2a2a2a" stroke="#2a2a2a" stroke-width="0.15">5</text>
<line x1="75.60" y1="665.80" x2="75.60" y2="667.40" stroke="#606060" stroke-width="0.45"/>
<line x1="101.00" y1="665.80" x2="101.00" y2="667.40" stroke="#606060" stroke-width="0.45"/>
<line x1="126.40" y1="665.80" x2="126.40" y2="667.40" stroke="#606060" stroke-width="0.45"/>
<line x1="151.80" y1="665.80" x2="151.80" y2="667.40" stroke="#606060" stroke-width="0.45"/>
<line x1="177.20" y1="665.80" x2="177.20" y2="667.40" stroke="#606060" stroke-width="0.45"/>
<line x1="202.60" y1="665.80" x2="202.60" y2="667.40" stroke="#606060" stroke-width="0.45"/>
<line x1="228.00" y1="665.80" x2="228.00" y2="667.40" stroke="#606060" stroke-width="0.45"/>
<rect x="55.70" y="650.64" width="7.20" height="15.16" fill="#000"/>
<rect x="63.20" y="644.58" width="6.90" height="21.22" fill="#8e8e8e" stroke="#444" stroke-width="0.6"/>
<line x1="66.50" y1="639.27" x2="66.50" y2="649.88" stroke="#555" stroke-width="0.55"/>
<line x1="65.20" y1="639.27" x2="67.80" y2="639.27" stroke="#555" stroke-width="0.55"/>
<line x1="65.20" y1="649.88" x2="67.80" y2="649.88" stroke="#555" stroke-width="0.55"/>
<text x="62.80" y="673.20" font-size="5.6" text-anchor="middle" font-style="italic" textLength="17.02" lengthAdjust="spacingAndGlyphs" stroke="#1a1a1a" stroke-width="0.1">TFRC</text>
<rect x="81.10" y="650.64" width="7.20" height="15.16" fill="#000"/>
<rect x="88.60" y="646.85" width="6.90" height="18.95" fill="#8e8e8e" stroke="#444" stroke-width="0.6"/>
<line x1="91.90" y1="642.30" x2="91.90" y2="651.40" stroke="#555" stroke-width="0.55"/>
<line x1="90.60" y1="642.30" x2="93.20" y2="642.30" stroke="#555" stroke-width="0.55"/>
<line x1="90.60" y1="651.40" x2="93.20" y2="651.40" stroke="#555" stroke-width="0.55"/>
<text x="89.10" y="673.20" font-size="5.6" text-anchor="middle" font-style="italic" textLength="23.78" lengthAdjust="spacingAndGlyphs" stroke="#1a1a1a" stroke-width="0.1">SLC2A1</text>
<rect x="106.50" y="650.64" width="7.20" height="15.16" fill="#000"/>
<rect x="114.00" y="652.16" width="6.90" height="13.64" fill="#8e8e8e" stroke="#444" stroke-width="0.6"/>
<line x1="117.30" y1="649.12" x2="117.30" y2="655.19" stroke="#555" stroke-width="0.55"/>
<line x1="116.00" y1="649.12" x2="118.60" y2="649.12" stroke="#555" stroke-width="0.55"/>
<line x1="116.00" y1="655.19" x2="118.60" y2="655.19" stroke="#555" stroke-width="0.55"/>
<text x="114.10" y="673.20" font-size="5.6" text-anchor="middle" font-style="italic" textLength="16.68" lengthAdjust="spacingAndGlyphs" stroke="#1a1a1a" stroke-width="0.1">PDK1</text>
<rect x="131.90" y="650.64" width="7.20" height="15.16" fill="#000"/>
<rect x="139.40" y="653.67" width="6.90" height="12.13" fill="#8e8e8e" stroke="#444" stroke-width="0.6"/>
<line x1="142.70" y1="649.88" x2="142.70" y2="657.46" stroke="#555" stroke-width="0.55"/>
<line x1="141.40" y1="649.88" x2="144.00" y2="649.88" stroke="#555" stroke-width="0.55"/>
<line x1="141.40" y1="657.46" x2="144.00" y2="657.46" stroke="#555" stroke-width="0.55"/>
<text x="138.20" y="673.20" font-size="5.6" text-anchor="middle" font-style="italic" textLength="12.42" lengthAdjust="spacingAndGlyphs" stroke="#1a1a1a" stroke-width="0.1">HK1</text>
<rect x="157.30" y="650.64" width="7.20" height="15.16" fill="#000"/>
<rect x="164.80" y="618.80" width="6.90" height="47.00" fill="#8e8e8e" stroke="#444" stroke-width="0.6"/>
<line x1="168.10" y1="602.13" x2="168.10" y2="635.48" stroke="#555" stroke-width="0.55"/>
<line x1="166.80" y1="602.13" x2="169.40" y2="602.13" stroke="#555" stroke-width="0.55"/>
<line x1="166.80" y1="635.48" x2="169.40" y2="635.48" stroke="#555" stroke-width="0.55"/>
<text x="163.70" y="673.20" font-size="5.6" text-anchor="middle" font-style="italic" textLength="17.38" lengthAdjust="spacingAndGlyphs" stroke="#1a1a1a" stroke-width="0.1">VEGF</text>
<rect x="182.70" y="650.64" width="7.20" height="15.16" fill="#000"/>
<rect x="190.20" y="651.40" width="6.90" height="14.40" fill="#8e8e8e" stroke="#444" stroke-width="0.6"/>
<line x1="193.50" y1="646.85" x2="193.50" y2="655.19" stroke="#555" stroke-width="0.55"/>
<line x1="192.20" y1="646.85" x2="194.80" y2="646.85" stroke="#555" stroke-width="0.55"/>
<line x1="192.20" y1="655.19" x2="194.80" y2="655.19" stroke="#555" stroke-width="0.55"/>
<text x="190.70" y="673.20" font-size="5.6" text-anchor="middle" font-style="italic" textLength="18.45" lengthAdjust="spacingAndGlyphs" stroke="#1a1a1a" stroke-width="0.1">BNIP3</text>
<rect x="208.10" y="650.64" width="7.20" height="15.16" fill="#000"/>
<rect x="215.60" y="649.12" width="6.90" height="16.68" fill="#fff" stroke="#444" stroke-width="0.6"/>
<line x1="218.90" y1="645.33" x2="218.90" y2="652.91" stroke="#555" stroke-width="0.55"/>
<line x1="217.60" y1="645.33" x2="220.20" y2="645.33" stroke="#555" stroke-width="0.55"/>
<line x1="217.60" y1="652.91" x2="220.20" y2="652.91" stroke="#555" stroke-width="0.55"/>
<text x="216.70" y="673.20" font-size="5.6" text-anchor="middle" font-style="italic" textLength="21.64" lengthAdjust="spacingAndGlyphs" stroke="#1a1a1a" stroke-width="0.1">RUNX1</text>
<rect x="233.50" y="650.64" width="7.20" height="15.16" fill="#000"/>
<rect x="241.00" y="654.43" width="6.90" height="11.37" fill="#fff" stroke="#444" stroke-width="0.6"/>
<line x1="244.30" y1="649.88" x2="244.30" y2="658.98" stroke="#555" stroke-width="0.55"/>
<line x1="243.00" y1="649.88" x2="245.60" y2="649.88" stroke="#555" stroke-width="0.55"/>
<line x1="243.00" y1="658.98" x2="245.60" y2="658.98" stroke="#555" stroke-width="0.55"/>
<text x="241.40" y="673.20" font-size="5.6" text-anchor="middle" font-style="italic" textLength="18.45" lengthAdjust="spacingAndGlyphs" stroke="#1a1a1a" stroke-width="0.1">NF-E2</text>
<text x="154.40" y="593.40" font-size="7.6" text-anchor="middle" font-weight="bold" textLength="114.40" lengthAdjust="spacingAndGlyphs" fill="#000">Secondary polycythemias</text>
<text x="0" y="0" font-size="5.92747559274756" text-anchor="middle" textLength="42.50" lengthAdjust="spacingAndGlyphs" fill="#111" stroke="#111" stroke-width="0.38" transform="translate(37.00 627.90) scale(1.3 1) rotate(-90)">Expression ratio</text>
<text x="288.40" y="585.70" font-size="7.4" font-weight="bold" textLength="12.34" lengthAdjust="spacingAndGlyphs" fill="#111" stroke="#111" stroke-width="0.2">viii</text>
<line x1="316.30" y1="590.50" x2="316.30" y2="665.80" stroke="#606060" stroke-width="0.9"/>
<line x1="316.30" y1="665.80" x2="517.80" y2="665.80" stroke="#606060" stroke-width="0.9"/>
<line x1="314.70" y1="665.80" x2="316.30" y2="665.80" stroke="#606060" stroke-width="0.5"/>
<text x="311.30" y="667.49" font-size="4.7" text-anchor="end" fill="#2a2a2a" stroke="#2a2a2a" stroke-width="0.15">0</text>
<line x1="314.70" y1="650.74" x2="316.30" y2="650.74" stroke="#606060" stroke-width="0.5"/>
<text x="311.30" y="652.43" font-size="4.7" text-anchor="end" fill="#2a2a2a" stroke="#2a2a2a" stroke-width="0.15">1</text>
<line x1="314.70" y1="635.68" x2="316.30" y2="635.68" stroke="#606060" stroke-width="0.5"/>
<text x="311.30" y="637.37" font-size="4.7" text-anchor="end" fill="#2a2a2a" stroke="#2a2a2a" stroke-width="0.15">2</text>
<line x1="314.70" y1="620.62" x2="316.30" y2="620.62" stroke="#606060" stroke-width="0.5"/>
<text x="311.30" y="622.31" font-size="4.7" text-anchor="end" fill="#2a2a2a" stroke="#2a2a2a" stroke-width="0.15">3</text>
<line x1="314.70" y1="605.56" x2="316.30" y2="605.56" stroke="#606060" stroke-width="0.5"/>
<text x="311.30" y="607.25" font-size="4.7" text-anchor="end" fill="#2a2a2a" stroke="#2a2a2a" stroke-width="0.15">4</text>
<line x1="314.70" y1="590.50" x2="316.30" y2="590.50" stroke="#606060" stroke-width="0.5"/>
<text x="311.30" y="592.19" font-size="4.7" text-anchor="end" fill="#2a2a2a" stroke="#2a2a2a" stroke-width="0.15">5</text>
<line x1="342.10" y1="665.80" x2="342.10" y2="667.40" stroke="#606060" stroke-width="0.45"/>
<line x1="367.10" y1="665.80" x2="367.10" y2="667.40" stroke="#606060" stroke-width="0.45"/>
<line x1="392.10" y1="665.80" x2="392.10" y2="667.40" stroke="#606060" stroke-width="0.45"/>
<line x1="417.10" y1="665.80" x2="417.10" y2="667.40" stroke="#606060" stroke-width="0.45"/>
<line x1="442.10" y1="665.80" x2="442.10" y2="667.40" stroke="#606060" stroke-width="0.45"/>
<line x1="467.10" y1="665.80" x2="467.10" y2="667.40" stroke="#606060" stroke-width="0.45"/>
<line x1="492.10" y1="665.80" x2="492.10" y2="667.40" stroke="#606060" stroke-width="0.45"/>
<line x1="517.10" y1="665.80" x2="517.10" y2="667.40" stroke="#606060" stroke-width="0.45"/>
<rect x="322.40" y="650.74" width="7.20" height="15.06" fill="#000"/>
<rect x="329.90" y="631.91" width="6.90" height="33.88" fill="#8e8e8e" stroke="#444" stroke-width="0.6"/>
<line x1="333.20" y1="626.64" x2="333.20" y2="637.19" stroke="#555" stroke-width="0.55"/>
<line x1="331.90" y1="626.64" x2="334.50" y2="626.64" stroke="#555" stroke-width="0.55"/>
<line x1="331.90" y1="637.19" x2="334.50" y2="637.19" stroke="#555" stroke-width="0.55"/>
<ellipse cx="331.05" cy="622.04" rx="1.55" ry="1.15" fill="#111"/>
<ellipse cx="335.35" cy="622.04" rx="1.55" ry="1.15" fill="#111"/>
<text x="327.80" y="673.20" font-size="5.6" text-anchor="middle" font-style="italic" textLength="17.02" lengthAdjust="spacingAndGlyphs" stroke="#1a1a1a" stroke-width="0.1">TFRC</text>
<rect x="347.40" y="650.74" width="7.20" height="15.06" fill="#000"/>
<rect x="354.90" y="634.17" width="6.90" height="31.63" fill="#8e8e8e" stroke="#444" stroke-width="0.6"/>
<line x1="358.20" y1="629.66" x2="358.20" y2="638.69" stroke="#555" stroke-width="0.55"/>
<line x1="356.90" y1="629.66" x2="359.50" y2="629.66" stroke="#555" stroke-width="0.55"/>
<line x1="356.90" y1="638.69" x2="359.50" y2="638.69" stroke="#555" stroke-width="0.55"/>
<text x="353.40" y="673.20" font-size="5.6" text-anchor="middle" font-style="italic" textLength="23.78" lengthAdjust="spacingAndGlyphs" stroke="#1a1a1a" stroke-width="0.1">SLC2A1</text>
<rect x="372.40" y="650.74" width="7.20" height="15.06" fill="#000"/>
<rect x="379.90" y="650.74" width="6.90" height="15.06" fill="#8e8e8e" stroke="#444" stroke-width="0.6"/>
<line x1="383.20" y1="647.73" x2="383.20" y2="653.75" stroke="#555" stroke-width="0.55"/>
<line x1="381.90" y1="647.73" x2="384.50" y2="647.73" stroke="#555" stroke-width="0.55"/>
<line x1="381.90" y1="653.75" x2="384.50" y2="653.75" stroke="#555" stroke-width="0.55"/>
<text x="379.90" y="673.20" font-size="5.6" text-anchor="middle" font-style="italic" textLength="16.68" lengthAdjust="spacingAndGlyphs" stroke="#1a1a1a" stroke-width="0.1">PDK1</text>
<rect x="397.40" y="650.74" width="7.20" height="15.06" fill="#000"/>
<rect x="404.90" y="609.32" width="6.90" height="56.48" fill="#8e8e8e" stroke="#444" stroke-width="0.6"/>
<line x1="408.20" y1="605.56" x2="408.20" y2="612.34" stroke="#555" stroke-width="0.55"/>
<line x1="406.90" y1="605.56" x2="409.50" y2="605.56" stroke="#555" stroke-width="0.55"/>
<line x1="406.90" y1="612.34" x2="409.50" y2="612.34" stroke="#555" stroke-width="0.55"/>
<text x="404.90" y="673.20" font-size="5.6" text-anchor="middle" font-style="italic" textLength="12.42" lengthAdjust="spacingAndGlyphs" stroke="#1a1a1a" stroke-width="0.1">HK1</text>
<rect x="422.40" y="650.74" width="7.20" height="15.06" fill="#000"/>
<rect x="429.90" y="624.38" width="6.90" height="41.41" fill="#8e8e8e" stroke="#444" stroke-width="0.6"/>
<line x1="433.20" y1="615.35" x2="433.20" y2="632.67" stroke="#555" stroke-width="0.55"/>
<line x1="431.90" y1="615.35" x2="434.50" y2="615.35" stroke="#555" stroke-width="0.55"/>
<line x1="431.90" y1="632.67" x2="434.50" y2="632.67" stroke="#555" stroke-width="0.55"/>
<text x="429.50" y="673.20" font-size="5.6" text-anchor="middle" font-style="italic" textLength="17.38" lengthAdjust="spacingAndGlyphs" stroke="#1a1a1a" stroke-width="0.1">VEGF</text>
<rect x="447.40" y="650.74" width="7.20" height="15.06" fill="#000"/>
<rect x="454.90" y="610.08" width="6.90" height="55.72" fill="#8e8e8e" stroke="#444" stroke-width="0.6"/>
<line x1="458.20" y1="603.30" x2="458.20" y2="616.10" stroke="#555" stroke-width="0.55"/>
<line x1="456.90" y1="603.30" x2="459.50" y2="603.30" stroke="#555" stroke-width="0.55"/>
<line x1="456.90" y1="616.10" x2="459.50" y2="616.10" stroke="#555" stroke-width="0.55"/>
<ellipse cx="458.20" cy="598.70" rx="1.55" ry="1.15" fill="#111"/>
<text x="456.00" y="673.20" font-size="5.6" text-anchor="middle" font-style="italic" textLength="18.45" lengthAdjust="spacingAndGlyphs" stroke="#1a1a1a" stroke-width="0.1">BNIP3</text>
<rect x="472.40" y="650.74" width="7.20" height="15.06" fill="#000"/>
<rect x="479.90" y="629.66" width="6.90" height="36.14" fill="#fff" stroke="#444" stroke-width="0.6"/>
<line x1="483.20" y1="625.14" x2="483.20" y2="633.42" stroke="#555" stroke-width="0.55"/>
<line x1="481.90" y1="625.14" x2="484.50" y2="625.14" stroke="#555" stroke-width="0.55"/>
<line x1="481.90" y1="633.42" x2="484.50" y2="633.42" stroke="#555" stroke-width="0.55"/>
<ellipse cx="481.05" cy="620.54" rx="1.55" ry="1.15" fill="#111"/>
<ellipse cx="485.35" cy="620.54" rx="1.55" ry="1.15" fill="#111"/>
<text x="482.70" y="673.20" font-size="5.6" text-anchor="middle" font-style="italic" textLength="21.64" lengthAdjust="spacingAndGlyphs" stroke="#1a1a1a" stroke-width="0.1">RUNX1</text>
<rect x="497.40" y="650.74" width="7.20" height="15.06" fill="#000"/>
<rect x="504.90" y="661.28" width="6.90" height="4.52" fill="#fff" stroke="#444" stroke-width="0.6"/>
<line x1="508.20" y1="659.78" x2="508.20" y2="663.54" stroke="#555" stroke-width="0.55"/>
<line x1="506.90" y1="659.78" x2="509.50" y2="659.78" stroke="#555" stroke-width="0.55"/>
<line x1="506.90" y1="663.54" x2="509.50" y2="663.54" stroke="#555" stroke-width="0.55"/>
<ellipse cx="506.05" cy="655.18" rx="1.55" ry="1.15" fill="#111"/>
<ellipse cx="510.35" cy="655.18" rx="1.55" ry="1.15" fill="#111"/>
<text x="507.70" y="673.20" font-size="5.6" text-anchor="middle" font-style="italic" textLength="18.45" lengthAdjust="spacingAndGlyphs" stroke="#1a1a1a" stroke-width="0.1">NF-E2</text>
<text x="419.50" y="593.40" font-size="7.6" text-anchor="middle" font-weight="bold" textLength="78.68" lengthAdjust="spacingAndGlyphs" fill="#000">VHL T124A/L188V</text>
<text x="0" y="0" font-size="5.92747559274756" text-anchor="middle" textLength="42.50" lengthAdjust="spacingAndGlyphs" fill="#111" stroke="#111" stroke-width="0.38" transform="translate(305.20 627.75) scale(1.3 1) rotate(-90)">Expression ratio</text>
<text x="104.00" y="692.00" font-size="7.4" font-weight="bold" textLength="7.41" lengthAdjust="spacingAndGlyphs" fill="#111" stroke="#111" stroke-width="0.2">ix</text>
<line x1="128.00" y1="698.00" x2="128.00" y2="755.00" stroke="#606060" stroke-width="0.9"/>
<line x1="128.00" y1="755.00" x2="205.00" y2="755.00" stroke="#606060" stroke-width="0.9"/>
<line x1="126.40" y1="755.00" x2="128.00" y2="755.00" stroke="#606060" stroke-width="0.5"/>
<text x="123.00" y="756.69" font-size="4.7" text-anchor="end" fill="#2a2a2a" stroke="#2a2a2a" stroke-width="0.15">0</text>
<line x1="126.40" y1="743.60" x2="128.00" y2="743.60" stroke="#606060" stroke-width="0.5"/>
<text x="123.00" y="745.29" font-size="4.7" text-anchor="end" fill="#2a2a2a" stroke="#2a2a2a" stroke-width="0.15">1</text>
<line x1="126.40" y1="732.20" x2="128.00" y2="732.20" stroke="#606060" stroke-width="0.5"/>
<text x="123.00" y="733.89" font-size="4.7" text-anchor="end" fill="#2a2a2a" stroke="#2a2a2a" stroke-width="0.15">2</text>
<line x1="126.40" y1="720.80" x2="128.00" y2="720.80" stroke="#606060" stroke-width="0.5"/>
<text x="123.00" y="722.49" font-size="4.7" text-anchor="end" fill="#2a2a2a" stroke="#2a2a2a" stroke-width="0.15">3</text>
<line x1="126.40" y1="709.40" x2="128.00" y2="709.40" stroke="#606060" stroke-width="0.5"/>
<text x="123.00" y="711.09" font-size="4.7" text-anchor="end" fill="#2a2a2a" stroke="#2a2a2a" stroke-width="0.15">4</text>
<line x1="126.40" y1="698.00" x2="128.00" y2="698.00" stroke="#606060" stroke-width="0.5"/>
<text x="123.00" y="699.69" font-size="4.7" text-anchor="end" fill="#2a2a2a" stroke="#2a2a2a" stroke-width="0.15">5</text>
<line x1="167.40" y1="755.00" x2="167.40" y2="756.60" stroke="#606060" stroke-width="0.45"/>
<rect x="137.30" y="743.60" width="10.50" height="11.40" fill="#000"/>
<rect x="148.10" y="732.20" width="10.20" height="22.80" fill="#fff" stroke="#444" stroke-width="0.6"/>
<line x1="153.05" y1="726.50" x2="153.05" y2="737.90" stroke="#555" stroke-width="0.55"/>
<line x1="151.75" y1="726.50" x2="154.35" y2="726.50" stroke="#555" stroke-width="0.55"/>
<line x1="151.75" y1="737.90" x2="154.35" y2="737.90" stroke="#555" stroke-width="0.55"/>
<text x="147.80" y="762.40" font-size="5.5" text-anchor="middle" font-style="italic" textLength="21.25" lengthAdjust="spacingAndGlyphs" stroke="#1a1a1a" stroke-width="0.1">RUNX1</text>
<rect x="176.50" y="743.60" width="10.50" height="11.40" fill="#000"/>
<rect x="187.30" y="749.30" width="10.20" height="5.70" fill="#fff" stroke="#444" stroke-width="0.6"/>
<line x1="192.25" y1="747.02" x2="192.25" y2="751.58" stroke="#555" stroke-width="0.55"/>
<line x1="190.95" y1="747.02" x2="193.55" y2="747.02" stroke="#555" stroke-width="0.55"/>
<line x1="190.95" y1="751.58" x2="193.55" y2="751.58" stroke="#555" stroke-width="0.55"/>
<ellipse cx="192.25" cy="742.42" rx="1.55" ry="1.15" fill="#111"/>
<text x="187.00" y="762.40" font-size="5.5" text-anchor="middle" font-style="italic" textLength="18.12" lengthAdjust="spacingAndGlyphs" stroke="#1a1a1a" stroke-width="0.1">NF-E2</text>
<text x="166.70" y="700.40" font-size="7.6" text-anchor="middle" font-weight="bold" textLength="49.82" lengthAdjust="spacingAndGlyphs" fill="#000">VHL H191D</text>
<text x="0" y="0" font-size="5.899581589958158" text-anchor="middle" textLength="42.30" lengthAdjust="spacingAndGlyphs" fill="#111" stroke="#111" stroke-width="0.38" transform="translate(115.40 726.10) scale(1.3 1) rotate(-90)">Expression ratio</text>
<text x="368.40" y="691.40" font-size="7.4" font-weight="bold" textLength="4.94" lengthAdjust="spacingAndGlyphs" fill="#111" stroke="#111" stroke-width="0.2">x</text>
<line x1="388.20" y1="697.50" x2="388.20" y2="754.50" stroke="#606060" stroke-width="0.9"/>
<line x1="388.20" y1="754.50" x2="478.00" y2="754.50" stroke="#606060" stroke-width="0.9"/>
<line x1="386.60" y1="754.50" x2="388.20" y2="754.50" stroke="#606060" stroke-width="0.5"/>
<text x="383.20" y="755.94" font-size="4.0" text-anchor="end" fill="#2a2a2a" stroke="#2a2a2a" stroke-width="0.15">0</text>
<line x1="386.60" y1="743.10" x2="388.20" y2="743.10" stroke="#606060" stroke-width="0.5"/>
<text x="383.20" y="744.54" font-size="4.0" text-anchor="end" fill="#2a2a2a" stroke="#2a2a2a" stroke-width="0.15">1</text>
<line x1="386.60" y1="731.70" x2="388.20" y2="731.70" stroke="#606060" stroke-width="0.5"/>
<text x="383.20" y="733.14" font-size="4.0" text-anchor="end" fill="#2a2a2a" stroke="#2a2a2a" stroke-width="0.15">2</text>
<line x1="386.60" y1="720.30" x2="388.20" y2="720.30" stroke="#606060" stroke-width="0.5"/>
<text x="383.20" y="721.74" font-size="4.0" text-anchor="end" fill="#2a2a2a" stroke="#2a2a2a" stroke-width="0.15">3</text>
<line x1="386.60" y1="708.90" x2="388.20" y2="708.90" stroke="#606060" stroke-width="0.5"/>
<text x="383.20" y="710.34" font-size="4.0" text-anchor="end" fill="#2a2a2a" stroke="#2a2a2a" stroke-width="0.15">4</text>
<line x1="386.60" y1="697.50" x2="388.20" y2="697.50" stroke="#606060" stroke-width="0.5"/>
<text x="383.20" y="698.94" font-size="4.0" text-anchor="end" fill="#2a2a2a" stroke="#2a2a2a" stroke-width="0.15">5</text>
<line x1="430.70" y1="754.50" x2="430.70" y2="756.10" stroke="#606060" stroke-width="0.45"/>
<line x1="473.30" y1="754.50" x2="473.30" y2="756.10" stroke="#606060" stroke-width="0.45"/>
<rect x="397.80" y="743.10" width="11.60" height="11.40" fill="#000"/>
<rect x="409.70" y="747.09" width="11.30" height="7.41" fill="#fff" stroke="#444" stroke-width="0.6"/>
<line x1="415.20" y1="745.38" x2="415.20" y2="748.80" stroke="#555" stroke-width="0.55"/>
<line x1="413.90" y1="745.38" x2="416.50" y2="745.38" stroke="#555" stroke-width="0.55"/>
<line x1="413.90" y1="748.80" x2="416.50" y2="748.80" stroke="#555" stroke-width="0.55"/>
<ellipse cx="415.20" cy="740.78" rx="1.55" ry="1.15" fill="#111"/>
<text x="408.20" y="761.00" font-size="5.0" text-anchor="middle" font-style="italic" textLength="16.48" lengthAdjust="spacingAndGlyphs" stroke="#1a1a1a" stroke-width="0.1">Runx1</text>
<rect x="440.40" y="743.10" width="11.60" height="11.40" fill="#000"/>
<rect x="452.30" y="745.95" width="11.30" height="8.55" fill="#fff" stroke="#444" stroke-width="0.6"/>
<line x1="457.80" y1="744.24" x2="457.80" y2="747.66" stroke="#555" stroke-width="0.55"/>
<line x1="456.50" y1="744.24" x2="459.10" y2="744.24" stroke="#555" stroke-width="0.55"/>
<line x1="456.50" y1="747.66" x2="459.10" y2="747.66" stroke="#555" stroke-width="0.55"/>
<ellipse cx="457.80" cy="739.64" rx="1.55" ry="1.15" fill="#111"/>
<text x="457.80" y="761.00" font-size="5.0" text-anchor="middle" font-style="italic" textLength="16.48" lengthAdjust="spacingAndGlyphs" stroke="#1a1a1a" stroke-width="0.1">Runx1</text>
<text x="432.00" y="700.40" font-size="7.6" text-anchor="middle" font-weight="bold" textLength="34.54" lengthAdjust="spacingAndGlyphs" fill="#000">Hif1α -/-</text>
<text x="0" y="0" font-size="5.899581589958158" text-anchor="middle" textLength="42.30" lengthAdjust="spacingAndGlyphs" fill="#111" stroke="#111" stroke-width="0.38" transform="translate(377.00 726.50) scale(1.3 1) rotate(-90)">Expression ratio</text>
<text x="408.30" y="768.40" font-size="6.2" text-anchor="middle" textLength="25.00" lengthAdjust="spacingAndGlyphs" fill="#111" stroke="#111" stroke-width="0.22">yolk sac</text>
<text x="456.70" y="768.40" font-size="6.2" text-anchor="middle" textLength="46.50" lengthAdjust="spacingAndGlyphs" fill="#111" stroke="#111" stroke-width="0.22">whole embryo</text>
</g>
</svg>
</body></html>
